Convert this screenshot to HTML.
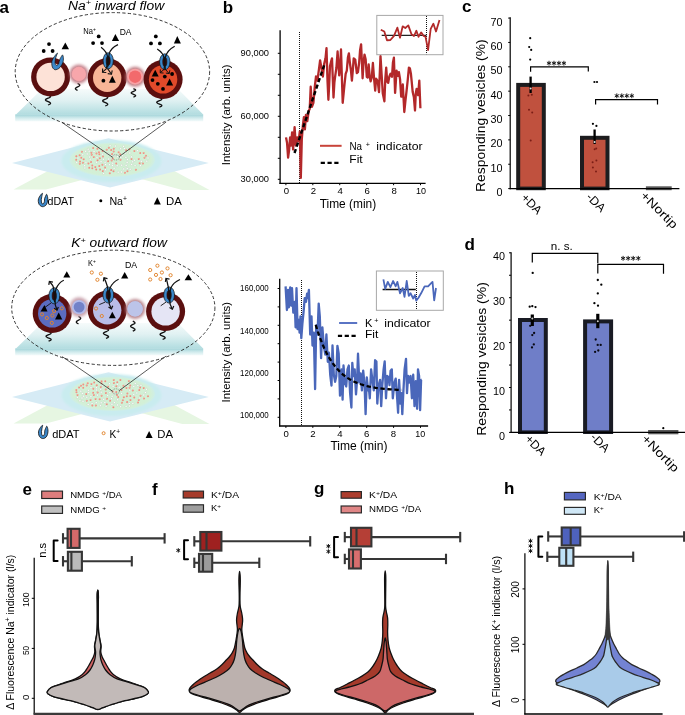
<!DOCTYPE html>
<html><head><meta charset="utf-8"><style>
html,body{margin:0;padding:0;background:#fff;}
svg{display:block;font-family:"Liberation Sans", sans-serif;will-change:transform;}
</style></head><body>
<svg width="685" height="715" viewBox="0 0 685 715">
<rect width="685" height="715" fill="#fff"/>
<defs>
<linearGradient id="gPlane" x1="0" y1="0" x2="0" y2="1">
 <stop offset="0" stop-color="#f6fbfb"/><stop offset="0.45" stop-color="#e0f1f2"/><stop offset="1" stop-color="#b2dde0"/>
</linearGradient>
<linearGradient id="gBand" x1="0" y1="0" x2="0" y2="1">
 <stop offset="0" stop-color="#9fd2d7"/><stop offset="0.5" stop-color="#cfeaec"/><stop offset="1" stop-color="#f4fbfb"/>
</linearGradient>
<radialGradient id="gEll" cx="0.5" cy="0.5" r="0.5">
 <stop offset="0" stop-color="#d0efd3"/><stop offset="0.9" stop-color="#d3f0d6"/><stop offset="1" stop-color="#d6f1d8" stop-opacity="0.3"/>
</radialGradient>
<filter id="blur1" x="-50%" y="-50%" width="200%" height="200%"><feGaussianBlur stdDeviation="1.1"/></filter>
<filter id="blur15" x="-50%" y="-50%" width="200%" height="200%"><feGaussianBlur stdDeviation="1.5"/></filter>
<filter id="blur05" x="-50%" y="-50%" width="200%" height="200%"><feGaussianBlur stdDeviation="0.6"/></filter>
</defs>
<text x="-0.5" y="12.6" font-size="17" font-weight="bold">a</text>
<text x="67.9" y="9.6" font-size="12.3" font-style="italic" textLength="96.3" lengthAdjust="spacingAndGlyphs">Na<tspan font-size="8" dy="-4.2">+</tspan><tspan dy="4.2"> inward flow</tspan></text>
<polygon points="13.5,189.6 60,164.6 95,174 81,180.2 46,189.6" fill="#e6f6e2" stroke="none" stroke-width="1" />
<polygon points="130,176 165,166 209.5,190 182.3,190" fill="#e6f6e2" stroke="none" stroke-width="1" />
<polygon points="12,163.1 108.5,138.3 208.8,163.1 110,187.6" fill="#d6ebf5" stroke="none" stroke-width="1" />
<ellipse cx="111.5" cy="161" rx="50" ry="21" fill="#c9ecef" filter="url(#blur1)"/>
<ellipse cx="112.2" cy="159.8" rx="43" ry="17.2" fill="url(#gEll)"/>
<circle cx="97.41" cy="148.78" r="1" fill="#f08b7e" stroke="none" stroke-width="1" />
<circle cx="97.11" cy="148.38" r="0.35" fill="#fbd2cc" stroke="none" stroke-width="1" />
<circle cx="123.57" cy="146.35" r="1" fill="#ffffff" stroke="#b4c4b4" stroke-width="0.35" />
<circle cx="114.37" cy="155.44" r="1" fill="#ffffff" stroke="#b4c4b4" stroke-width="0.35" />
<circle cx="76.14" cy="159.83" r="1" fill="#f08b7e" stroke="none" stroke-width="1" />
<circle cx="75.84" cy="159.43" r="0.35" fill="#fbd2cc" stroke="none" stroke-width="1" />
<circle cx="105.46" cy="169.73" r="1" fill="#ffffff" stroke="#b4c4b4" stroke-width="0.35" />
<circle cx="117.67" cy="156.4" r="1" fill="#ffffff" stroke="#b4c4b4" stroke-width="0.35" />
<circle cx="140.18" cy="153.08" r="1" fill="#f08b7e" stroke="none" stroke-width="1" />
<circle cx="139.88" cy="152.68" r="0.35" fill="#fbd2cc" stroke="none" stroke-width="1" />
<circle cx="96.18" cy="169.4" r="1" fill="#f08b7e" stroke="none" stroke-width="1" />
<circle cx="95.88" cy="169" r="0.35" fill="#fbd2cc" stroke="none" stroke-width="1" />
<circle cx="85.96" cy="162.13" r="1" fill="#ffffff" stroke="#b4c4b4" stroke-width="0.35" />
<circle cx="122.61" cy="155.64" r="1" fill="#ffffff" stroke="#b4c4b4" stroke-width="0.35" />
<circle cx="115.32" cy="146.05" r="1" fill="#ffffff" stroke="#b4c4b4" stroke-width="0.35" />
<circle cx="125.93" cy="157.36" r="1" fill="#ffffff" stroke="#b4c4b4" stroke-width="0.35" />
<circle cx="96.63" cy="162.25" r="1" fill="#ffffff" stroke="#b4c4b4" stroke-width="0.35" />
<circle cx="107.75" cy="153.39" r="1" fill="#ffffff" stroke="#b4c4b4" stroke-width="0.35" />
<circle cx="135.05" cy="165.77" r="1" fill="#ffffff" stroke="#b4c4b4" stroke-width="0.35" />
<circle cx="91.03" cy="161.91" r="1" fill="#f08b7e" stroke="none" stroke-width="1" />
<circle cx="90.73" cy="161.51" r="0.35" fill="#fbd2cc" stroke="none" stroke-width="1" />
<circle cx="113.52" cy="171.23" r="1" fill="#f08b7e" stroke="none" stroke-width="1" />
<circle cx="113.22" cy="170.83" r="0.35" fill="#fbd2cc" stroke="none" stroke-width="1" />
<circle cx="129.86" cy="153.03" r="1" fill="#ffffff" stroke="#b4c4b4" stroke-width="0.35" />
<circle cx="104.95" cy="167.57" r="1" fill="#f08b7e" stroke="none" stroke-width="1" />
<circle cx="104.65" cy="167.17" r="0.35" fill="#fbd2cc" stroke="none" stroke-width="1" />
<circle cx="83.66" cy="159.26" r="1" fill="#f08b7e" stroke="none" stroke-width="1" />
<circle cx="83.36" cy="158.86" r="0.35" fill="#fbd2cc" stroke="none" stroke-width="1" />
<circle cx="132.67" cy="161.86" r="1" fill="#ffffff" stroke="#b4c4b4" stroke-width="0.35" />
<circle cx="127.12" cy="162.53" r="1" fill="#ffffff" stroke="#b4c4b4" stroke-width="0.35" />
<circle cx="109.43" cy="164.69" r="1" fill="#ffffff" stroke="#b4c4b4" stroke-width="0.35" />
<circle cx="102.36" cy="164.83" r="1" fill="#f08b7e" stroke="none" stroke-width="1" />
<circle cx="102.06" cy="164.43" r="0.35" fill="#fbd2cc" stroke="none" stroke-width="1" />
<circle cx="81.85" cy="151.78" r="1" fill="#f08b7e" stroke="none" stroke-width="1" />
<circle cx="81.55" cy="151.38" r="0.35" fill="#fbd2cc" stroke="none" stroke-width="1" />
<circle cx="102.78" cy="171.11" r="1" fill="#f08b7e" stroke="none" stroke-width="1" />
<circle cx="102.48" cy="170.71" r="0.35" fill="#fbd2cc" stroke="none" stroke-width="1" />
<circle cx="77.95" cy="158.02" r="1" fill="#ffffff" stroke="#b4c4b4" stroke-width="0.35" />
<circle cx="93.77" cy="156.97" r="1" fill="#f08b7e" stroke="none" stroke-width="1" />
<circle cx="93.47" cy="156.57" r="0.35" fill="#fbd2cc" stroke="none" stroke-width="1" />
<circle cx="85.6" cy="151.29" r="1" fill="#ffffff" stroke="#b4c4b4" stroke-width="0.35" />
<circle cx="90.17" cy="159.13" r="1" fill="#ffffff" stroke="#b4c4b4" stroke-width="0.35" />
<circle cx="118.63" cy="152.25" r="1" fill="#f08b7e" stroke="none" stroke-width="1" />
<circle cx="118.33" cy="151.85" r="0.35" fill="#fbd2cc" stroke="none" stroke-width="1" />
<circle cx="101.04" cy="161.66" r="1" fill="#ffffff" stroke="#b4c4b4" stroke-width="0.35" />
<circle cx="112.74" cy="163.25" r="1" fill="#ffffff" stroke="#b4c4b4" stroke-width="0.35" />
<circle cx="102.89" cy="156.47" r="1" fill="#f08b7e" stroke="none" stroke-width="1" />
<circle cx="102.59" cy="156.07" r="0.35" fill="#fbd2cc" stroke="none" stroke-width="1" />
<circle cx="79.78" cy="163.76" r="1" fill="#f08b7e" stroke="none" stroke-width="1" />
<circle cx="79.48" cy="163.36" r="0.35" fill="#fbd2cc" stroke="none" stroke-width="1" />
<circle cx="88.2" cy="149.13" r="1" fill="#ffffff" stroke="#b4c4b4" stroke-width="0.35" />
<circle cx="79.62" cy="155.37" r="1" fill="#f08b7e" stroke="none" stroke-width="1" />
<circle cx="79.32" cy="154.97" r="0.35" fill="#fbd2cc" stroke="none" stroke-width="1" />
<circle cx="120.63" cy="148.71" r="1" fill="#ffffff" stroke="#b4c4b4" stroke-width="0.35" />
<circle cx="91.68" cy="154.87" r="1" fill="#f08b7e" stroke="none" stroke-width="1" />
<circle cx="91.38" cy="154.47" r="0.35" fill="#fbd2cc" stroke="none" stroke-width="1" />
<circle cx="100.63" cy="147.91" r="1" fill="#ffffff" stroke="#b4c4b4" stroke-width="0.35" />
<circle cx="108.78" cy="159.1" r="1" fill="#ffffff" stroke="#b4c4b4" stroke-width="0.35" />
<circle cx="98.91" cy="152.31" r="1" fill="#f08b7e" stroke="none" stroke-width="1" />
<circle cx="98.61" cy="151.91" r="0.35" fill="#fbd2cc" stroke="none" stroke-width="1" />
<circle cx="113.76" cy="148.64" r="1" fill="#f08b7e" stroke="none" stroke-width="1" />
<circle cx="113.46" cy="148.24" r="0.35" fill="#fbd2cc" stroke="none" stroke-width="1" />
<circle cx="140.57" cy="165.68" r="1" fill="#ffffff" stroke="#b4c4b4" stroke-width="0.35" />
<circle cx="84.86" cy="168.03" r="1" fill="#ffffff" stroke="#b4c4b4" stroke-width="0.35" />
<circle cx="114.11" cy="168.25" r="1" fill="#ffffff" stroke="#b4c4b4" stroke-width="0.35" />
<circle cx="92.23" cy="165.57" r="1" fill="#f08b7e" stroke="none" stroke-width="1" />
<circle cx="91.93" cy="165.17" r="0.35" fill="#fbd2cc" stroke="none" stroke-width="1" />
<circle cx="148.02" cy="157.96" r="1" fill="#ffffff" stroke="#b4c4b4" stroke-width="0.35" />
<circle cx="89.14" cy="151.13" r="1" fill="#ffffff" stroke="#b4c4b4" stroke-width="0.35" />
<circle cx="121.43" cy="172.01" r="1" fill="#ffffff" stroke="#b4c4b4" stroke-width="0.35" />
<circle cx="138.73" cy="158.96" r="1" fill="#f08b7e" stroke="none" stroke-width="1" />
<circle cx="138.43" cy="158.56" r="0.35" fill="#fbd2cc" stroke="none" stroke-width="1" />
<circle cx="123.74" cy="168.89" r="1" fill="#ffffff" stroke="#b4c4b4" stroke-width="0.35" />
<circle cx="131.51" cy="158.92" r="1" fill="#f08b7e" stroke="none" stroke-width="1" />
<circle cx="131.21" cy="158.52" r="0.35" fill="#fbd2cc" stroke="none" stroke-width="1" />
<circle cx="103.61" cy="173.45" r="1" fill="#ffffff" stroke="#b4c4b4" stroke-width="0.35" />
<circle cx="129.48" cy="149.37" r="1" fill="#f08b7e" stroke="none" stroke-width="1" />
<circle cx="129.18" cy="148.97" r="0.35" fill="#fbd2cc" stroke="none" stroke-width="1" />
<circle cx="137.59" cy="150.64" r="1" fill="#ffffff" stroke="#b4c4b4" stroke-width="0.35" />
<circle cx="99.8" cy="158.3" r="1" fill="#f08b7e" stroke="none" stroke-width="1" />
<circle cx="99.5" cy="157.9" r="0.35" fill="#fbd2cc" stroke="none" stroke-width="1" />
<circle cx="118.17" cy="172.13" r="1" fill="#ffffff" stroke="#b4c4b4" stroke-width="0.35" />
<circle cx="111.63" cy="160.59" r="1" fill="#f08b7e" stroke="none" stroke-width="1" />
<circle cx="111.33" cy="160.19" r="0.35" fill="#fbd2cc" stroke="none" stroke-width="1" />
<circle cx="106.71" cy="149.78" r="1" fill="#f08b7e" stroke="none" stroke-width="1" />
<circle cx="106.41" cy="149.38" r="0.35" fill="#fbd2cc" stroke="none" stroke-width="1" />
<circle cx="97.58" cy="160.17" r="1" fill="#f08b7e" stroke="none" stroke-width="1" />
<circle cx="97.28" cy="159.77" r="0.35" fill="#fbd2cc" stroke="none" stroke-width="1" />
<circle cx="79.99" cy="161.47" r="1" fill="#f08b7e" stroke="none" stroke-width="1" />
<circle cx="79.69" cy="161.07" r="0.35" fill="#fbd2cc" stroke="none" stroke-width="1" />
<circle cx="91.38" cy="152.68" r="1" fill="#f08b7e" stroke="none" stroke-width="1" />
<circle cx="91.08" cy="152.28" r="0.35" fill="#fbd2cc" stroke="none" stroke-width="1" />
<circle cx="144.5" cy="157.84" r="1" fill="#f08b7e" stroke="none" stroke-width="1" />
<circle cx="144.2" cy="157.44" r="0.35" fill="#fbd2cc" stroke="none" stroke-width="1" />
<circle cx="120.5" cy="159.77" r="1" fill="#f08b7e" stroke="none" stroke-width="1" />
<circle cx="120.2" cy="159.37" r="0.35" fill="#fbd2cc" stroke="none" stroke-width="1" />
<circle cx="112.47" cy="165.57" r="1" fill="#ffffff" stroke="#b4c4b4" stroke-width="0.35" />
<circle cx="109.74" cy="173.29" r="1" fill="#f08b7e" stroke="none" stroke-width="1" />
<circle cx="109.44" cy="172.89" r="0.35" fill="#fbd2cc" stroke="none" stroke-width="1" />
<circle cx="127.44" cy="171.27" r="1" fill="#f08b7e" stroke="none" stroke-width="1" />
<circle cx="127.14" cy="170.87" r="0.35" fill="#fbd2cc" stroke="none" stroke-width="1" />
<circle cx="81.23" cy="157.81" r="1" fill="#f08b7e" stroke="none" stroke-width="1" />
<circle cx="80.93" cy="157.41" r="0.35" fill="#fbd2cc" stroke="none" stroke-width="1" />
<circle cx="124.32" cy="148.53" r="1" fill="#ffffff" stroke="#b4c4b4" stroke-width="0.35" />
<circle cx="103.36" cy="159.21" r="1" fill="#ffffff" stroke="#b4c4b4" stroke-width="0.35" />
<circle cx="87.16" cy="153.97" r="1" fill="#ffffff" stroke="#b4c4b4" stroke-width="0.35" />
<circle cx="93.14" cy="148.12" r="1" fill="#f08b7e" stroke="none" stroke-width="1" />
<circle cx="92.84" cy="147.72" r="0.35" fill="#fbd2cc" stroke="none" stroke-width="1" />
<circle cx="117.15" cy="165.81" r="1" fill="#ffffff" stroke="#b4c4b4" stroke-width="0.35" />
<circle cx="113.65" cy="151.49" r="1" fill="#f08b7e" stroke="none" stroke-width="1" />
<circle cx="113.35" cy="151.09" r="0.35" fill="#fbd2cc" stroke="none" stroke-width="1" />
<circle cx="96.46" cy="153.56" r="1" fill="#f08b7e" stroke="none" stroke-width="1" />
<circle cx="96.16" cy="153.16" r="0.35" fill="#fbd2cc" stroke="none" stroke-width="1" />
<circle cx="111.1" cy="169.97" r="1" fill="#f08b7e" stroke="none" stroke-width="1" />
<circle cx="110.8" cy="169.57" r="0.35" fill="#fbd2cc" stroke="none" stroke-width="1" />
<circle cx="94.05" cy="151.61" r="1" fill="#ffffff" stroke="#b4c4b4" stroke-width="0.35" />
<circle cx="131.54" cy="164.48" r="1" fill="#ffffff" stroke="#b4c4b4" stroke-width="0.35" />
<circle cx="102.66" cy="154.21" r="1" fill="#ffffff" stroke="#b4c4b4" stroke-width="0.35" />
<circle cx="142.86" cy="163.55" r="1" fill="#f08b7e" stroke="none" stroke-width="1" />
<circle cx="142.56" cy="163.15" r="0.35" fill="#fbd2cc" stroke="none" stroke-width="1" />
<circle cx="130.21" cy="169.28" r="1" fill="#ffffff" stroke="#b4c4b4" stroke-width="0.35" />
<circle cx="135.87" cy="169.72" r="1" fill="#f08b7e" stroke="none" stroke-width="1" />
<circle cx="135.57" cy="169.32" r="0.35" fill="#fbd2cc" stroke="none" stroke-width="1" />
<circle cx="126.13" cy="165.59" r="1" fill="#ffffff" stroke="#b4c4b4" stroke-width="0.35" />
<circle cx="116.18" cy="163.56" r="1" fill="#f08b7e" stroke="none" stroke-width="1" />
<circle cx="115.88" cy="163.16" r="0.35" fill="#fbd2cc" stroke="none" stroke-width="1" />
<circle cx="121.6" cy="165.2" r="1" fill="#ffffff" stroke="#b4c4b4" stroke-width="0.35" />
<circle cx="111.02" cy="155.96" r="1" fill="#ffffff" stroke="#b4c4b4" stroke-width="0.35" />
<circle cx="125.56" cy="153.12" r="1" fill="#ffffff" stroke="#b4c4b4" stroke-width="0.35" />
<circle cx="112.82" cy="158.5" r="1" fill="#f08b7e" stroke="none" stroke-width="1" />
<circle cx="112.52" cy="158.1" r="0.35" fill="#fbd2cc" stroke="none" stroke-width="1" />
<circle cx="108.81" cy="147.77" r="1" fill="#f08b7e" stroke="none" stroke-width="1" />
<circle cx="108.51" cy="147.37" r="0.35" fill="#fbd2cc" stroke="none" stroke-width="1" />
<circle cx="82.76" cy="154.76" r="1" fill="#ffffff" stroke="#b4c4b4" stroke-width="0.35" />
<circle cx="143.63" cy="153.08" r="1" fill="#f08b7e" stroke="none" stroke-width="1" />
<circle cx="143.33" cy="152.68" r="0.35" fill="#fbd2cc" stroke="none" stroke-width="1" />
<circle cx="146.76" cy="161.13" r="1" fill="#ffffff" stroke="#b4c4b4" stroke-width="0.35" />
<circle cx="95.32" cy="167.01" r="1" fill="#f08b7e" stroke="none" stroke-width="1" />
<circle cx="95.02" cy="166.61" r="0.35" fill="#fbd2cc" stroke="none" stroke-width="1" />
<circle cx="131.47" cy="156.9" r="1" fill="#ffffff" stroke="#b4c4b4" stroke-width="0.35" />
<circle cx="108.09" cy="161.2" r="1" fill="#f08b7e" stroke="none" stroke-width="1" />
<circle cx="107.79" cy="160.8" r="0.35" fill="#fbd2cc" stroke="none" stroke-width="1" />
<circle cx="102.55" cy="151.03" r="1" fill="#f08b7e" stroke="none" stroke-width="1" />
<circle cx="102.25" cy="150.63" r="0.35" fill="#fbd2cc" stroke="none" stroke-width="1" />
<circle cx="124.89" cy="172.78" r="1" fill="#f08b7e" stroke="none" stroke-width="1" />
<circle cx="124.59" cy="172.38" r="0.35" fill="#fbd2cc" stroke="none" stroke-width="1" />
<circle cx="126.11" cy="150.24" r="1" fill="#f08b7e" stroke="none" stroke-width="1" />
<circle cx="125.81" cy="149.84" r="0.35" fill="#fbd2cc" stroke="none" stroke-width="1" />
<circle cx="89.22" cy="167.67" r="1" fill="#f08b7e" stroke="none" stroke-width="1" />
<circle cx="88.92" cy="167.27" r="0.35" fill="#fbd2cc" stroke="none" stroke-width="1" />
<circle cx="111.16" cy="149.91" r="1" fill="#f08b7e" stroke="none" stroke-width="1" />
<circle cx="110.86" cy="149.51" r="0.35" fill="#fbd2cc" stroke="none" stroke-width="1" />
<circle cx="89.37" cy="157.03" r="1" fill="#ffffff" stroke="#b4c4b4" stroke-width="0.35" />
<circle cx="76.31" cy="156.29" r="1" fill="#f08b7e" stroke="none" stroke-width="1" />
<circle cx="76.01" cy="155.89" r="0.35" fill="#fbd2cc" stroke="none" stroke-width="1" />
<circle cx="100.03" cy="169.57" r="1" fill="#f08b7e" stroke="none" stroke-width="1" />
<circle cx="99.73" cy="169.17" r="0.35" fill="#fbd2cc" stroke="none" stroke-width="1" />
<circle cx="120.08" cy="154.26" r="1" fill="#f08b7e" stroke="none" stroke-width="1" />
<circle cx="119.78" cy="153.86" r="0.35" fill="#fbd2cc" stroke="none" stroke-width="1" />
<circle cx="145.91" cy="155.64" r="1" fill="#f08b7e" stroke="none" stroke-width="1" />
<circle cx="145.61" cy="155.24" r="0.35" fill="#fbd2cc" stroke="none" stroke-width="1" />
<circle cx="92.3" cy="168.21" r="1" fill="#f08b7e" stroke="none" stroke-width="1" />
<circle cx="92" cy="167.81" r="0.35" fill="#fbd2cc" stroke="none" stroke-width="1" />
<circle cx="84.6" cy="165.66" r="1" fill="#ffffff" stroke="#b4c4b4" stroke-width="0.35" />
<circle cx="110.12" cy="145.75" r="1" fill="#ffffff" stroke="#b4c4b4" stroke-width="0.35" />
<circle cx="134.37" cy="150.98" r="1" fill="#f08b7e" stroke="none" stroke-width="1" />
<circle cx="134.07" cy="150.58" r="0.35" fill="#fbd2cc" stroke="none" stroke-width="1" />
<circle cx="105.11" cy="162.16" r="1" fill="#ffffff" stroke="#b4c4b4" stroke-width="0.35" />
<circle cx="105.56" cy="164.52" r="1" fill="#ffffff" stroke="#b4c4b4" stroke-width="0.35" />
<circle cx="111.98" cy="153.99" r="1" fill="#f08b7e" stroke="none" stroke-width="1" />
<circle cx="111.68" cy="153.59" r="0.35" fill="#fbd2cc" stroke="none" stroke-width="1" />
<circle cx="141.34" cy="161.31" r="1" fill="#ffffff" stroke="#b4c4b4" stroke-width="0.35" />
<circle cx="120.78" cy="157.5" r="1" fill="#ffffff" stroke="#b4c4b4" stroke-width="0.35" />
<circle cx="134.58" cy="160.32" r="1" fill="#ffffff" stroke="#b4c4b4" stroke-width="0.35" />
<circle cx="88.46" cy="163.4" r="1" fill="#f08b7e" stroke="none" stroke-width="1" />
<circle cx="88.16" cy="163" r="0.35" fill="#fbd2cc" stroke="none" stroke-width="1" />
<circle cx="76.76" cy="162.4" r="1" fill="#ffffff" stroke="#b4c4b4" stroke-width="0.35" />
<circle cx="97.03" cy="157.24" r="1" fill="#ffffff" stroke="#b4c4b4" stroke-width="0.35" />
<circle cx="139.61" cy="163.27" r="1" fill="#f08b7e" stroke="none" stroke-width="1" />
<circle cx="139.31" cy="162.87" r="0.35" fill="#fbd2cc" stroke="none" stroke-width="1" />
<circle cx="99.24" cy="165.94" r="1" fill="#f08b7e" stroke="none" stroke-width="1" />
<circle cx="98.94" cy="165.54" r="0.35" fill="#fbd2cc" stroke="none" stroke-width="1" />
<circle cx="127.46" cy="159.55" r="1" fill="#ffffff" stroke="#b4c4b4" stroke-width="0.35" />
<circle cx="127.27" cy="168.49" r="1" fill="#ffffff" stroke="#b4c4b4" stroke-width="0.35" />
<circle cx="99.38" cy="154.23" r="1" fill="#f08b7e" stroke="none" stroke-width="1" />
<circle cx="99.08" cy="153.83" r="0.35" fill="#fbd2cc" stroke="none" stroke-width="1" />
<circle cx="82.85" cy="162.81" r="1" fill="#f08b7e" stroke="none" stroke-width="1" />
<circle cx="82.55" cy="162.41" r="0.35" fill="#fbd2cc" stroke="none" stroke-width="1" />
<line x1="62.2" y1="122.6" x2="112.5" y2="157.2" stroke="#222" stroke-width="0.75" />
<line x1="166.2" y1="122" x2="119.2" y2="156.6" stroke="#222" stroke-width="0.75" />
<ellipse cx="115.8" cy="157.4" rx="3.6" ry="2.6" fill="none" stroke="#444" stroke-width="0.5" stroke-dasharray="1 0.8"/>
<polygon points="16,114.4 42,89 178,89 203.2,114.4" fill="url(#gPlane)" stroke="none" stroke-width="1" />
<rect x="15.2" y="114.4" width="188" height="7" fill="url(#gBand)" stroke="none" stroke-width="1" />
<ellipse cx="112.4" cy="71.8" rx="97.2" ry="59.2" fill="none" stroke="#1e1e1e" stroke-width="0.9" stroke-dasharray="3.2 2.2"/>
<polyline points="48,94.8 48.59,95.05 49.14,95.31 49.64,95.56 50.04,95.82 50.33,96.08 50.49,96.33 50.51,96.58 50.4,96.84 50.15,97.09 49.78,97.35 49.32,97.6 48.78,97.86 48.2,98.11 47.61,98.37 47.04,98.62 46.52,98.88 46.08,99.13 45.75,99.39 45.55,99.64 45.48,99.9 45.55,100.16 45.75,100.41 46.08,100.66 46.52,100.92 47.04,101.17 47.61,101.43 48.2,101.69 48.78,101.94 49.32,102.19 49.78,102.45 50.15,102.7 50.4,102.96 50.51,103.22 50.49,103.47 50.33,103.72 50.04,103.98 49.64,104.23 49.14,104.49 48.59,104.74 48,105" fill="none" stroke="#111" stroke-width="1.35" stroke-linejoin="round"/>
<polyline points="77.6,83.4 77.94,83.58 78.27,83.75 78.58,83.93 78.87,84.1 79.13,84.28 79.35,84.45 79.52,84.62 79.65,84.8 79.73,84.98 79.76,85.15 79.73,85.33 79.65,85.5 79.52,85.68 79.35,85.85 79.13,86.03 78.87,86.2 78.58,86.38 78.27,86.55 77.94,86.73 77.6,86.9 77.26,87.08 76.93,87.25 76.62,87.43 76.33,87.6 76.07,87.78 75.85,87.95 75.68,88.12 75.55,88.3 75.47,88.48 75.44,88.65 75.47,88.83 75.55,89 75.68,89.18 75.85,89.35 76.07,89.53 76.33,89.7 76.62,89.88 76.93,90.05 77.26,90.23 77.6,90.4" fill="none" stroke="#111" stroke-width="1.35" stroke-linejoin="round"/>
<polyline points="105.2,95.8 105.79,96.05 106.34,96.31 106.84,96.56 107.24,96.82 107.53,97.08 107.69,97.33 107.71,97.58 107.6,97.84 107.35,98.09 106.98,98.35 106.52,98.6 105.98,98.86 105.4,99.11 104.81,99.37 104.24,99.62 103.72,99.88 103.28,100.13 102.95,100.39 102.75,100.64 102.68,100.9 102.75,101.16 102.95,101.41 103.28,101.66 103.72,101.92 104.24,102.17 104.81,102.43 105.4,102.69 105.98,102.94 106.52,103.19 106.98,103.45 107.35,103.7 107.6,103.96 107.71,104.22 107.69,104.47 107.53,104.72 107.24,104.98 106.84,105.23 106.34,105.49 105.79,105.74 105.2,106" fill="none" stroke="#111" stroke-width="1.35" stroke-linejoin="round"/>
<polyline points="133.4,88.6 133.9,88.81 134.38,89.02 134.8,89.24 135.15,89.45 135.4,89.66 135.53,89.88 135.55,90.09 135.45,90.3 135.24,90.51 134.93,90.72 134.53,90.94 134.07,91.15 133.57,91.36 133.06,91.57 132.57,91.79 132.13,92 131.76,92.21 131.48,92.42 131.3,92.64 131.24,92.85 131.3,93.06 131.48,93.27 131.76,93.49 132.13,93.7 132.57,93.91 133.06,94.12 133.57,94.34 134.07,94.55 134.53,94.76 134.93,94.97 135.24,95.19 135.45,95.4 135.55,95.61 135.53,95.82 135.4,96.04 135.15,96.25 134.8,96.46 134.38,96.67 133.9,96.89 133.4,97.1" fill="none" stroke="#111" stroke-width="1.35" stroke-linejoin="round"/>
<polyline points="159.3,97.4 159.89,97.65 160.44,97.89 160.94,98.14 161.34,98.38 161.63,98.62 161.79,98.87 161.81,99.12 161.7,99.36 161.45,99.61 161.08,99.85 160.62,100.09 160.08,100.34 159.5,100.59 158.91,100.83 158.34,101.08 157.82,101.32 157.38,101.57 157.05,101.81 156.85,102.06 156.78,102.3 156.85,102.55 157.05,102.79 157.38,103.04 157.82,103.28 158.34,103.53 158.91,103.77 159.5,104.02 160.08,104.26 160.62,104.51 161.08,104.75 161.45,105 161.7,105.24 161.81,105.49 161.79,105.73 161.63,105.98 161.34,106.22 160.94,106.47 160.44,106.71 159.89,106.96 159.3,107.2" fill="none" stroke="#111" stroke-width="1.35" stroke-linejoin="round"/>
<circle cx="50.6" cy="76.9" r="19.5" fill="#5b0f0f" stroke="none" stroke-width="1" />
<circle cx="50.6" cy="76.9" r="14.2" fill="#fde2d7" stroke="none" stroke-width="1" />
<circle cx="78.9" cy="74" r="9.6" fill="#bf7680" stroke="none" stroke-width="1" filter="url(#blur15)" opacity="0.9"/>
<circle cx="78.9" cy="74" r="7.2" fill="#f2a2a8" stroke="none" stroke-width="1" filter="url(#blur05)"/>
<circle cx="78.9" cy="74" r="6.8" fill="#f7a6ab" stroke="none" stroke-width="1" filter="url(#blur05)"/>
<circle cx="107.2" cy="77.8" r="19.5" fill="#5b0f0f" stroke="none" stroke-width="1" />
<circle cx="107.2" cy="77.8" r="14.2" fill="#f8b597" stroke="none" stroke-width="1" />
<circle cx="135.1" cy="76.7" r="10" fill="#b96e76" stroke="none" stroke-width="1" filter="url(#blur15)" opacity="0.9"/>
<circle cx="135.1" cy="76.7" r="8" fill="#f7a0a3" stroke="none" stroke-width="1" filter="url(#blur05)"/>
<circle cx="135.1" cy="76.7" r="6.2" fill="#f26a6c" stroke="none" stroke-width="1" filter="url(#blur05)"/>
<circle cx="163.1" cy="79.4" r="19.5" fill="#5b0f0f" stroke="none" stroke-width="1" />
<circle cx="163.1" cy="79.4" r="14.2" fill="#e14a2a" stroke="none" stroke-width="1" />
<path d="M57.41,53.11 C57.11,53.17 55.34,55.23 54.49,56.39 C53.64,57.55 52.76,58.88 52.3,60.04 C51.84,61.2 51.75,62.17 51.75,63.33 C51.75,64.49 51.91,65.98 52.3,66.98 C52.69,67.98 53.51,68.89 54.12,69.35 C54.73,69.81 55.16,69.87 55.95,69.72 C56.74,69.57 58.02,69.08 58.87,68.44 C59.72,67.8 60.39,66.85 61.06,65.88 C61.73,64.91 62.48,63.76 62.88,62.6 C63.28,61.45 63.4,60.05 63.43,58.95 C63.46,57.86 63.22,56.7 63.07,56.03 C62.92,55.36 62.8,54.87 62.52,54.93 C62.25,54.99 61.85,55.72 61.42,56.39 C60.99,57.06 60.36,58.04 59.96,58.95 C59.56,59.86 59.29,61.02 59.05,61.87 C58.81,62.72 58.89,63.48 58.5,64.06 C58.11,64.64 57.2,65.28 56.68,65.34 C56.16,65.4 55.67,65 55.4,64.42 C55.13,63.84 55.04,62.78 55.04,61.87 C55.04,60.96 55.19,59.92 55.4,58.95 C55.61,57.98 55.98,57 56.31,56.03 C56.65,55.06 57.71,53.05 57.41,53.11Z" fill="#3b87c9" stroke="#111" stroke-width="0.7" stroke-linejoin="round"/>
<circle cx="49" cy="44.1" r="1.9" fill="#000" stroke="none" stroke-width="1" />
<circle cx="43.7" cy="51" r="1.9" fill="#000" stroke="none" stroke-width="1" />
<circle cx="52.6" cy="51" r="1.9" fill="#000" stroke="none" stroke-width="1" />
<polygon points="65.3,42.6 61.6,49.3 69,49.3" fill="#000" stroke="none" stroke-width="1" />
<text x="83.2" y="34" font-size="9.2" textLength="12.6" lengthAdjust="spacingAndGlyphs">Na<tspan font-size="6" dy="-3.2">+</tspan></text>
<circle cx="98.7" cy="36.4" r="1.9" fill="#000" stroke="none" stroke-width="1" />
<circle cx="93.1" cy="43.1" r="1.9" fill="#000" stroke="none" stroke-width="1" />
<circle cx="102" cy="43.1" r="1.9" fill="#000" stroke="none" stroke-width="1" />
<polygon points="115.4,33.9 111.9,41.1 119.1,41.1" fill="#000" stroke="none" stroke-width="1" />
<text x="119.7" y="35" font-size="8.8" textLength="11.8" lengthAdjust="spacingAndGlyphs">DA</text>
<ellipse cx="108.2" cy="60.8" rx="5.1" ry="8.1" fill="#3b87c9" stroke="#111" stroke-width="0.7"/>
<ellipse cx="108.2" cy="60.8" rx="2.04" ry="4.62" fill="#3a0808" stroke="#111" stroke-width="0.6"/>
<path d="M101.1,47.3 C104.5,50 107.2,53 107.6,57 C108,61 107.2,64 106.4,68.5" fill="none" stroke="#111" stroke-width="1.25" />
<path d="M118,44.6 C114,46.5 110,50 109.2,54 C108.5,58 108.4,63 107.6,67.5" fill="none" stroke="#111" stroke-width="1.25" />
<path d="M106.5,68.6 L102.5,72.2" fill="none" stroke="#111" stroke-width="1.1" />
<polyline points="102.64,68.4 102.5,72.2 106.29,72.45" fill="none" stroke="#111" stroke-width="1.1" stroke-linejoin="miter"/>
<path d="M107.6,68.6 L111.5,74.2" fill="none" stroke="#111" stroke-width="1.1" />
<polyline points="107.75,73.59 111.5,74.2 112.21,70.47" fill="none" stroke="#111" stroke-width="1.1" stroke-linejoin="miter"/>
<circle cx="103.4" cy="80.7" r="1.9" fill="#000" stroke="none" stroke-width="1" />
<polygon points="112.3,75.8 108.9,82.7 115.8,82.7" fill="#000" stroke="none" stroke-width="1" />
<circle cx="155.8" cy="36.4" r="1.9" fill="#000" stroke="none" stroke-width="1" />
<circle cx="151" cy="43.4" r="1.9" fill="#000" stroke="none" stroke-width="1" />
<circle cx="159.9" cy="43.4" r="1.9" fill="#000" stroke="none" stroke-width="1" />
<polygon points="177.3,36 173.9,43.4 180.9,43.4" fill="#000" stroke="none" stroke-width="1" />
<ellipse cx="164.8" cy="61.8" rx="5.2" ry="8" fill="#3b87c9" stroke="#111" stroke-width="0.7"/>
<ellipse cx="164.8" cy="61.8" rx="2.08" ry="4.56" fill="#3a0808" stroke="#111" stroke-width="0.6"/>
<path d="M157.2,49 C160.5,51 163.5,54.5 164.3,58.8 C164.8,62 164.5,66 164,70" fill="none" stroke="#111" stroke-width="1.25" />
<path d="M174.7,46.3 C170.5,48.5 166.5,52.5 165.2,57.5 C164.6,61 165,66 165.4,70" fill="none" stroke="#111" stroke-width="1.25" />
<path d="M164,69.4 L160.2,72.8" fill="none" stroke="#111" stroke-width="1" />
<polyline points="160.33,69.4 160.2,72.8 163.59,73.03" fill="none" stroke="#111" stroke-width="1" stroke-linejoin="miter"/>
<path d="M165.4,69.4 L169.2,73.6" fill="none" stroke="#111" stroke-width="1" />
<polyline points="165.84,73.06 169.2,73.6 169.84,70.26" fill="none" stroke="#111" stroke-width="1" stroke-linejoin="miter"/>
<polygon points="155.2,69.8 151.7,76.6 158.7,76.6" fill="#000" stroke="none" stroke-width="1" />
<polygon points="169.6,78.6 166.1,85.4 173.1,85.4" fill="#000" stroke="none" stroke-width="1" />
<circle cx="152.5" cy="80.1" r="1.9" fill="#000" stroke="none" stroke-width="1" />
<circle cx="157.8" cy="83.8" r="1.9" fill="#000" stroke="none" stroke-width="1" />
<circle cx="163" cy="88.9" r="1.9" fill="#000" stroke="none" stroke-width="1" />
<circle cx="164.8" cy="76.6" r="1.9" fill="#000" stroke="none" stroke-width="1" />
<circle cx="172.1" cy="74" r="1.9" fill="#000" stroke="none" stroke-width="1" />
<path d="M42.4,193.3 C42.15,193.13 40.93,194.63 40.3,195.5 C39.67,196.37 38.93,197.5 38.6,198.5 C38.27,199.5 38.2,200.5 38.3,201.5 C38.4,202.5 38.72,203.7 39.2,204.5 C39.68,205.3 40.48,205.95 41.2,206.3 C41.92,206.65 42.73,206.77 43.5,206.6 C44.27,206.43 45.18,205.93 45.8,205.3 C46.42,204.67 46.87,203.77 47.2,202.8 C47.53,201.83 47.75,200.55 47.8,199.5 C47.85,198.45 47.7,197.37 47.5,196.5 C47.3,195.63 46.93,194.33 46.6,194.3 C46.27,194.27 45.83,195.58 45.5,196.3 C45.17,197.02 44.78,197.73 44.6,198.6 C44.42,199.47 44.58,200.67 44.4,201.5 C44.22,202.33 43.87,203.22 43.5,203.6 C43.13,203.98 42.55,204.07 42.2,203.8 C41.85,203.53 41.55,202.72 41.4,202 C41.25,201.28 41.23,200.42 41.3,199.5 C41.37,198.58 41.62,197.53 41.8,196.5 C41.98,195.47 42.65,193.47 42.4,193.3Z" fill="#3b87c9" stroke="#111" stroke-width="0.8" stroke-linejoin="round"/>
<text x="47.5" y="204.8" font-size="11" textLength="26.4" lengthAdjust="spacingAndGlyphs">dDAT</text>
<circle cx="100.8" cy="200.8" r="1.5" fill="#000" stroke="none" stroke-width="1" />
<text x="109.4" y="204.8" font-size="11" textLength="17.6" lengthAdjust="spacingAndGlyphs">Na<tspan font-size="7" dy="-3.8">+</tspan></text>
<polygon points="157.3,197.2 153.8,204.4 160.8,204.4" fill="#000" stroke="none" stroke-width="1" />
<text x="166" y="204.8" font-size="11" textLength="15.8" lengthAdjust="spacingAndGlyphs">DA</text>
<text x="71.2" y="247" font-size="12.3" font-style="italic" textLength="95.7" lengthAdjust="spacingAndGlyphs">K<tspan font-size="8" dy="-4.2">+</tspan><tspan dy="4.2"> outward flow</tspan></text>
<polygon points="13.5,423.6 60,398.6 95,408 81,414.2 46,423.6" fill="#e6f6e2" stroke="none" stroke-width="1" />
<polygon points="130,410 165,400 209.5,424 182.3,424" fill="#e6f6e2" stroke="none" stroke-width="1" />
<polygon points="12,397.1 108.5,372.3 208.8,397.1 110,421.6" fill="#d6ebf5" stroke="none" stroke-width="1" />
<ellipse cx="111.5" cy="395" rx="50" ry="21" fill="#c9ecef" filter="url(#blur1)"/>
<ellipse cx="112.2" cy="393.8" rx="43" ry="17.2" fill="url(#gEll)"/>
<circle cx="107.69" cy="395.45" r="1" fill="#ffffff" stroke="#b4c4b4" stroke-width="0.35" />
<circle cx="145.44" cy="392.54" r="1" fill="#ffffff" stroke="#b4c4b4" stroke-width="0.35" />
<circle cx="112.13" cy="396.31" r="1" fill="#ffffff" stroke="#b4c4b4" stroke-width="0.35" />
<circle cx="86.27" cy="393.97" r="1" fill="#f08b7e" stroke="none" stroke-width="1" />
<circle cx="85.97" cy="393.57" r="0.35" fill="#fbd2cc" stroke="none" stroke-width="1" />
<circle cx="121.89" cy="402.68" r="1" fill="#f08b7e" stroke="none" stroke-width="1" />
<circle cx="121.59" cy="402.28" r="0.35" fill="#fbd2cc" stroke="none" stroke-width="1" />
<circle cx="79.03" cy="387.51" r="1" fill="#f08b7e" stroke="none" stroke-width="1" />
<circle cx="78.73" cy="387.11" r="0.35" fill="#fbd2cc" stroke="none" stroke-width="1" />
<circle cx="123.81" cy="397.18" r="1" fill="#f08b7e" stroke="none" stroke-width="1" />
<circle cx="123.51" cy="396.78" r="0.35" fill="#fbd2cc" stroke="none" stroke-width="1" />
<circle cx="113.77" cy="379.95" r="1" fill="#f08b7e" stroke="none" stroke-width="1" />
<circle cx="113.47" cy="379.55" r="0.35" fill="#fbd2cc" stroke="none" stroke-width="1" />
<circle cx="86.72" cy="385.6" r="1" fill="#f08b7e" stroke="none" stroke-width="1" />
<circle cx="86.42" cy="385.2" r="0.35" fill="#fbd2cc" stroke="none" stroke-width="1" />
<circle cx="106.74" cy="404.22" r="1" fill="#f08b7e" stroke="none" stroke-width="1" />
<circle cx="106.44" cy="403.82" r="0.35" fill="#fbd2cc" stroke="none" stroke-width="1" />
<circle cx="111.48" cy="398.64" r="1" fill="#ffffff" stroke="#b4c4b4" stroke-width="0.35" />
<circle cx="108.09" cy="386.72" r="1" fill="#f08b7e" stroke="none" stroke-width="1" />
<circle cx="107.79" cy="386.32" r="0.35" fill="#fbd2cc" stroke="none" stroke-width="1" />
<circle cx="138.72" cy="400.04" r="1" fill="#f08b7e" stroke="none" stroke-width="1" />
<circle cx="138.42" cy="399.64" r="0.35" fill="#fbd2cc" stroke="none" stroke-width="1" />
<circle cx="96.72" cy="385.22" r="1" fill="#f08b7e" stroke="none" stroke-width="1" />
<circle cx="96.42" cy="384.82" r="0.35" fill="#fbd2cc" stroke="none" stroke-width="1" />
<circle cx="132.8" cy="390.51" r="1" fill="#f08b7e" stroke="none" stroke-width="1" />
<circle cx="132.5" cy="390.11" r="0.35" fill="#fbd2cc" stroke="none" stroke-width="1" />
<circle cx="139.23" cy="390.08" r="1" fill="#f08b7e" stroke="none" stroke-width="1" />
<circle cx="138.93" cy="389.68" r="0.35" fill="#fbd2cc" stroke="none" stroke-width="1" />
<circle cx="77.34" cy="397.61" r="1" fill="#ffffff" stroke="#b4c4b4" stroke-width="0.35" />
<circle cx="133.78" cy="386.46" r="1" fill="#ffffff" stroke="#b4c4b4" stroke-width="0.35" />
<circle cx="80.94" cy="385.74" r="1" fill="#f08b7e" stroke="none" stroke-width="1" />
<circle cx="80.64" cy="385.34" r="0.35" fill="#fbd2cc" stroke="none" stroke-width="1" />
<circle cx="135.26" cy="383.61" r="1" fill="#ffffff" stroke="#b4c4b4" stroke-width="0.35" />
<circle cx="116.24" cy="391.97" r="1" fill="#f08b7e" stroke="none" stroke-width="1" />
<circle cx="115.94" cy="391.57" r="0.35" fill="#fbd2cc" stroke="none" stroke-width="1" />
<circle cx="86.75" cy="400.79" r="1" fill="#f08b7e" stroke="none" stroke-width="1" />
<circle cx="86.45" cy="400.39" r="0.35" fill="#fbd2cc" stroke="none" stroke-width="1" />
<circle cx="81.98" cy="398.06" r="1" fill="#ffffff" stroke="#b4c4b4" stroke-width="0.35" />
<circle cx="80.82" cy="391.14" r="1" fill="#ffffff" stroke="#b4c4b4" stroke-width="0.35" />
<circle cx="95.83" cy="405.53" r="1" fill="#f08b7e" stroke="none" stroke-width="1" />
<circle cx="95.53" cy="405.13" r="0.35" fill="#fbd2cc" stroke="none" stroke-width="1" />
<circle cx="88.36" cy="390.32" r="1" fill="#ffffff" stroke="#b4c4b4" stroke-width="0.35" />
<circle cx="139.85" cy="398" r="1" fill="#ffffff" stroke="#b4c4b4" stroke-width="0.35" />
<circle cx="90.94" cy="396.74" r="1" fill="#ffffff" stroke="#b4c4b4" stroke-width="0.35" />
<circle cx="101.24" cy="392.15" r="1" fill="#ffffff" stroke="#b4c4b4" stroke-width="0.35" />
<circle cx="117.47" cy="404.96" r="1" fill="#ffffff" stroke="#b4c4b4" stroke-width="0.35" />
<circle cx="91.46" cy="383.98" r="1" fill="#f08b7e" stroke="none" stroke-width="1" />
<circle cx="91.16" cy="383.58" r="0.35" fill="#fbd2cc" stroke="none" stroke-width="1" />
<circle cx="105.22" cy="381.32" r="1" fill="#f08b7e" stroke="none" stroke-width="1" />
<circle cx="104.92" cy="380.92" r="0.35" fill="#fbd2cc" stroke="none" stroke-width="1" />
<circle cx="90.57" cy="399.94" r="1" fill="#f08b7e" stroke="none" stroke-width="1" />
<circle cx="90.27" cy="399.54" r="0.35" fill="#fbd2cc" stroke="none" stroke-width="1" />
<circle cx="92.06" cy="403.64" r="1" fill="#ffffff" stroke="#b4c4b4" stroke-width="0.35" />
<circle cx="119.22" cy="387.2" r="1" fill="#ffffff" stroke="#b4c4b4" stroke-width="0.35" />
<circle cx="117.27" cy="382.18" r="1" fill="#f08b7e" stroke="none" stroke-width="1" />
<circle cx="116.97" cy="381.78" r="0.35" fill="#fbd2cc" stroke="none" stroke-width="1" />
<circle cx="100.47" cy="405.72" r="1" fill="#ffffff" stroke="#b4c4b4" stroke-width="0.35" />
<circle cx="126.8" cy="396.22" r="1" fill="#f08b7e" stroke="none" stroke-width="1" />
<circle cx="126.5" cy="395.82" r="0.35" fill="#fbd2cc" stroke="none" stroke-width="1" />
<circle cx="110.08" cy="400.75" r="1" fill="#f08b7e" stroke="none" stroke-width="1" />
<circle cx="109.78" cy="400.35" r="0.35" fill="#fbd2cc" stroke="none" stroke-width="1" />
<circle cx="77.52" cy="395.03" r="1" fill="#f08b7e" stroke="none" stroke-width="1" />
<circle cx="77.22" cy="394.63" r="0.35" fill="#fbd2cc" stroke="none" stroke-width="1" />
<circle cx="130.47" cy="399.91" r="1" fill="#f08b7e" stroke="none" stroke-width="1" />
<circle cx="130.17" cy="399.51" r="0.35" fill="#fbd2cc" stroke="none" stroke-width="1" />
<circle cx="99.65" cy="399.34" r="1" fill="#f08b7e" stroke="none" stroke-width="1" />
<circle cx="99.35" cy="398.94" r="0.35" fill="#fbd2cc" stroke="none" stroke-width="1" />
<circle cx="104.87" cy="402.61" r="1" fill="#ffffff" stroke="#b4c4b4" stroke-width="0.35" />
<circle cx="140.58" cy="395.86" r="1" fill="#f08b7e" stroke="none" stroke-width="1" />
<circle cx="140.28" cy="395.46" r="0.35" fill="#fbd2cc" stroke="none" stroke-width="1" />
<circle cx="121.5" cy="389.95" r="1" fill="#f08b7e" stroke="none" stroke-width="1" />
<circle cx="121.2" cy="389.55" r="0.35" fill="#fbd2cc" stroke="none" stroke-width="1" />
<circle cx="118.11" cy="396.97" r="1" fill="#f08b7e" stroke="none" stroke-width="1" />
<circle cx="117.81" cy="396.57" r="0.35" fill="#fbd2cc" stroke="none" stroke-width="1" />
<circle cx="129.76" cy="390.14" r="1" fill="#ffffff" stroke="#b4c4b4" stroke-width="0.35" />
<circle cx="130.3" cy="396.11" r="1" fill="#f08b7e" stroke="none" stroke-width="1" />
<circle cx="130" cy="395.71" r="0.35" fill="#fbd2cc" stroke="none" stroke-width="1" />
<circle cx="127.37" cy="393.51" r="1" fill="#f08b7e" stroke="none" stroke-width="1" />
<circle cx="127.07" cy="393.11" r="0.35" fill="#fbd2cc" stroke="none" stroke-width="1" />
<circle cx="120.66" cy="406.63" r="1" fill="#ffffff" stroke="#b4c4b4" stroke-width="0.35" />
<circle cx="95.58" cy="399.12" r="1" fill="#f08b7e" stroke="none" stroke-width="1" />
<circle cx="95.28" cy="398.72" r="0.35" fill="#fbd2cc" stroke="none" stroke-width="1" />
<circle cx="87.71" cy="383.36" r="1" fill="#f08b7e" stroke="none" stroke-width="1" />
<circle cx="87.41" cy="382.96" r="0.35" fill="#fbd2cc" stroke="none" stroke-width="1" />
<circle cx="143.96" cy="398.56" r="1" fill="#f08b7e" stroke="none" stroke-width="1" />
<circle cx="143.66" cy="398.16" r="0.35" fill="#fbd2cc" stroke="none" stroke-width="1" />
<circle cx="82.39" cy="393.49" r="1" fill="#ffffff" stroke="#b4c4b4" stroke-width="0.35" />
<circle cx="121.56" cy="393.41" r="1" fill="#ffffff" stroke="#b4c4b4" stroke-width="0.35" />
<circle cx="96.22" cy="402.64" r="1" fill="#ffffff" stroke="#b4c4b4" stroke-width="0.35" />
<circle cx="137.87" cy="385.46" r="1" fill="#ffffff" stroke="#b4c4b4" stroke-width="0.35" />
<circle cx="126.26" cy="384.28" r="1" fill="#ffffff" stroke="#b4c4b4" stroke-width="0.35" />
<circle cx="109.51" cy="383.64" r="1" fill="#ffffff" stroke="#b4c4b4" stroke-width="0.35" />
<circle cx="93.29" cy="388.82" r="1" fill="#f08b7e" stroke="none" stroke-width="1" />
<circle cx="92.99" cy="388.42" r="0.35" fill="#fbd2cc" stroke="none" stroke-width="1" />
<circle cx="101.64" cy="395.73" r="1" fill="#f08b7e" stroke="none" stroke-width="1" />
<circle cx="101.34" cy="395.33" r="0.35" fill="#fbd2cc" stroke="none" stroke-width="1" />
<circle cx="129.25" cy="403.47" r="1" fill="#ffffff" stroke="#b4c4b4" stroke-width="0.35" />
<circle cx="122.83" cy="400.35" r="1" fill="#f08b7e" stroke="none" stroke-width="1" />
<circle cx="122.53" cy="399.95" r="0.35" fill="#fbd2cc" stroke="none" stroke-width="1" />
<circle cx="114.46" cy="402.61" r="1" fill="#ffffff" stroke="#b4c4b4" stroke-width="0.35" />
<circle cx="96.44" cy="389.92" r="1" fill="#ffffff" stroke="#b4c4b4" stroke-width="0.35" />
<circle cx="88.16" cy="404.47" r="1" fill="#ffffff" stroke="#b4c4b4" stroke-width="0.35" />
<circle cx="117.34" cy="384.33" r="1" fill="#ffffff" stroke="#b4c4b4" stroke-width="0.35" />
<circle cx="114.37" cy="393.7" r="1" fill="#ffffff" stroke="#b4c4b4" stroke-width="0.35" />
<circle cx="93.04" cy="392.77" r="1" fill="#f08b7e" stroke="none" stroke-width="1" />
<circle cx="92.74" cy="392.37" r="0.35" fill="#fbd2cc" stroke="none" stroke-width="1" />
<circle cx="86.82" cy="397.25" r="1" fill="#ffffff" stroke="#b4c4b4" stroke-width="0.35" />
<circle cx="126.46" cy="388.08" r="1" fill="#f08b7e" stroke="none" stroke-width="1" />
<circle cx="126.16" cy="387.68" r="0.35" fill="#fbd2cc" stroke="none" stroke-width="1" />
<circle cx="79.89" cy="400.76" r="1" fill="#ffffff" stroke="#b4c4b4" stroke-width="0.35" />
<circle cx="113.85" cy="383.05" r="1" fill="#f08b7e" stroke="none" stroke-width="1" />
<circle cx="113.55" cy="382.65" r="0.35" fill="#fbd2cc" stroke="none" stroke-width="1" />
<circle cx="143.71" cy="387.89" r="1" fill="#f08b7e" stroke="none" stroke-width="1" />
<circle cx="143.41" cy="387.49" r="0.35" fill="#fbd2cc" stroke="none" stroke-width="1" />
<circle cx="103.72" cy="399.34" r="1" fill="#ffffff" stroke="#b4c4b4" stroke-width="0.35" />
<circle cx="126.09" cy="406.35" r="1" fill="#ffffff" stroke="#b4c4b4" stroke-width="0.35" />
<circle cx="97.65" cy="392.58" r="1" fill="#f08b7e" stroke="none" stroke-width="1" />
<circle cx="97.35" cy="392.18" r="0.35" fill="#fbd2cc" stroke="none" stroke-width="1" />
<circle cx="112.72" cy="391.43" r="1" fill="#f08b7e" stroke="none" stroke-width="1" />
<circle cx="112.42" cy="391.03" r="0.35" fill="#fbd2cc" stroke="none" stroke-width="1" />
<circle cx="127.08" cy="401.89" r="1" fill="#f08b7e" stroke="none" stroke-width="1" />
<circle cx="126.78" cy="401.49" r="0.35" fill="#fbd2cc" stroke="none" stroke-width="1" />
<circle cx="101.55" cy="381.15" r="1" fill="#f08b7e" stroke="none" stroke-width="1" />
<circle cx="101.25" cy="380.75" r="0.35" fill="#fbd2cc" stroke="none" stroke-width="1" />
<circle cx="120.39" cy="379.91" r="1" fill="#f08b7e" stroke="none" stroke-width="1" />
<circle cx="120.09" cy="379.51" r="0.35" fill="#fbd2cc" stroke="none" stroke-width="1" />
<circle cx="100.75" cy="386.96" r="1" fill="#f08b7e" stroke="none" stroke-width="1" />
<circle cx="100.45" cy="386.56" r="0.35" fill="#fbd2cc" stroke="none" stroke-width="1" />
<circle cx="105.86" cy="392.91" r="1" fill="#f08b7e" stroke="none" stroke-width="1" />
<circle cx="105.56" cy="392.51" r="0.35" fill="#fbd2cc" stroke="none" stroke-width="1" />
<circle cx="113.37" cy="407.16" r="1" fill="#f08b7e" stroke="none" stroke-width="1" />
<circle cx="113.07" cy="406.76" r="0.35" fill="#fbd2cc" stroke="none" stroke-width="1" />
<circle cx="106.93" cy="398.8" r="1" fill="#f08b7e" stroke="none" stroke-width="1" />
<circle cx="106.63" cy="398.4" r="0.35" fill="#fbd2cc" stroke="none" stroke-width="1" />
<circle cx="133.74" cy="394.55" r="1" fill="#ffffff" stroke="#b4c4b4" stroke-width="0.35" />
<circle cx="130.24" cy="385.49" r="1" fill="#f08b7e" stroke="none" stroke-width="1" />
<circle cx="129.94" cy="385.09" r="0.35" fill="#fbd2cc" stroke="none" stroke-width="1" />
<circle cx="134.24" cy="397.47" r="1" fill="#f08b7e" stroke="none" stroke-width="1" />
<circle cx="133.94" cy="397.07" r="0.35" fill="#fbd2cc" stroke="none" stroke-width="1" />
<circle cx="97.53" cy="395.11" r="1" fill="#ffffff" stroke="#b4c4b4" stroke-width="0.35" />
<circle cx="105.71" cy="389.55" r="1" fill="#f08b7e" stroke="none" stroke-width="1" />
<circle cx="105.41" cy="389.15" r="0.35" fill="#fbd2cc" stroke="none" stroke-width="1" />
<circle cx="94.13" cy="382.53" r="1" fill="#f08b7e" stroke="none" stroke-width="1" />
<circle cx="93.83" cy="382.13" r="0.35" fill="#fbd2cc" stroke="none" stroke-width="1" />
<circle cx="100.75" cy="389.36" r="1" fill="#ffffff" stroke="#b4c4b4" stroke-width="0.35" />
<circle cx="83.01" cy="401.22" r="1" fill="#ffffff" stroke="#b4c4b4" stroke-width="0.35" />
<circle cx="123.42" cy="385.71" r="1" fill="#f08b7e" stroke="none" stroke-width="1" />
<circle cx="123.12" cy="385.31" r="0.35" fill="#fbd2cc" stroke="none" stroke-width="1" />
<circle cx="101.54" cy="383.3" r="1" fill="#f08b7e" stroke="none" stroke-width="1" />
<circle cx="101.24" cy="382.9" r="0.35" fill="#fbd2cc" stroke="none" stroke-width="1" />
<circle cx="76.49" cy="392.32" r="1" fill="#f08b7e" stroke="none" stroke-width="1" />
<circle cx="76.19" cy="391.92" r="0.35" fill="#fbd2cc" stroke="none" stroke-width="1" />
<circle cx="136.87" cy="392.96" r="1" fill="#ffffff" stroke="#b4c4b4" stroke-width="0.35" />
<circle cx="92.34" cy="405.61" r="1" fill="#f08b7e" stroke="none" stroke-width="1" />
<circle cx="92.04" cy="405.21" r="0.35" fill="#fbd2cc" stroke="none" stroke-width="1" />
<circle cx="101.22" cy="402.8" r="1" fill="#ffffff" stroke="#b4c4b4" stroke-width="0.35" />
<circle cx="128.82" cy="381.11" r="1" fill="#f08b7e" stroke="none" stroke-width="1" />
<circle cx="128.52" cy="380.71" r="0.35" fill="#fbd2cc" stroke="none" stroke-width="1" />
<circle cx="109.91" cy="392.63" r="1" fill="#ffffff" stroke="#b4c4b4" stroke-width="0.35" />
<circle cx="147.94" cy="396.29" r="1" fill="#f08b7e" stroke="none" stroke-width="1" />
<circle cx="147.64" cy="395.89" r="0.35" fill="#fbd2cc" stroke="none" stroke-width="1" />
<circle cx="140.09" cy="387.51" r="1" fill="#f08b7e" stroke="none" stroke-width="1" />
<circle cx="139.79" cy="387.11" r="0.35" fill="#fbd2cc" stroke="none" stroke-width="1" />
<circle cx="96.41" cy="387.73" r="1" fill="#ffffff" stroke="#b4c4b4" stroke-width="0.35" />
<circle cx="132.85" cy="403.55" r="1" fill="#ffffff" stroke="#b4c4b4" stroke-width="0.35" />
<circle cx="143.74" cy="395.1" r="1" fill="#ffffff" stroke="#b4c4b4" stroke-width="0.35" />
<circle cx="117.62" cy="399.71" r="1" fill="#ffffff" stroke="#b4c4b4" stroke-width="0.35" />
<circle cx="116.33" cy="386.3" r="1" fill="#f08b7e" stroke="none" stroke-width="1" />
<circle cx="116.03" cy="385.9" r="0.35" fill="#fbd2cc" stroke="none" stroke-width="1" />
<circle cx="113.08" cy="386.27" r="1" fill="#ffffff" stroke="#b4c4b4" stroke-width="0.35" />
<circle cx="106.08" cy="406.13" r="1" fill="#ffffff" stroke="#b4c4b4" stroke-width="0.35" />
<circle cx="129.55" cy="406" r="1" fill="#ffffff" stroke="#b4c4b4" stroke-width="0.35" />
<circle cx="91.01" cy="387.38" r="1" fill="#ffffff" stroke="#b4c4b4" stroke-width="0.35" />
<circle cx="129.56" cy="387.8" r="1" fill="#f08b7e" stroke="none" stroke-width="1" />
<circle cx="129.26" cy="387.4" r="0.35" fill="#fbd2cc" stroke="none" stroke-width="1" />
<circle cx="93.83" cy="395.09" r="1" fill="#f08b7e" stroke="none" stroke-width="1" />
<circle cx="93.53" cy="394.69" r="0.35" fill="#fbd2cc" stroke="none" stroke-width="1" />
<circle cx="111.95" cy="404.31" r="1" fill="#ffffff" stroke="#b4c4b4" stroke-width="0.35" />
<circle cx="117.01" cy="394.94" r="1" fill="#f08b7e" stroke="none" stroke-width="1" />
<circle cx="116.71" cy="394.54" r="0.35" fill="#fbd2cc" stroke="none" stroke-width="1" />
<circle cx="83.2" cy="387.74" r="1" fill="#f08b7e" stroke="none" stroke-width="1" />
<circle cx="82.9" cy="387.34" r="0.35" fill="#fbd2cc" stroke="none" stroke-width="1" />
<circle cx="137.97" cy="402.49" r="1" fill="#f08b7e" stroke="none" stroke-width="1" />
<circle cx="137.67" cy="402.09" r="0.35" fill="#fbd2cc" stroke="none" stroke-width="1" />
<circle cx="88.66" cy="392.6" r="1" fill="#ffffff" stroke="#b4c4b4" stroke-width="0.35" />
<circle cx="146.43" cy="389.25" r="1" fill="#ffffff" stroke="#b4c4b4" stroke-width="0.35" />
<circle cx="103.02" cy="385.49" r="1" fill="#ffffff" stroke="#b4c4b4" stroke-width="0.35" />
<circle cx="83.28" cy="384.45" r="1" fill="#f08b7e" stroke="none" stroke-width="1" />
<circle cx="82.98" cy="384.05" r="0.35" fill="#fbd2cc" stroke="none" stroke-width="1" />
<circle cx="140.97" cy="385.37" r="1" fill="#ffffff" stroke="#b4c4b4" stroke-width="0.35" />
<circle cx="76.31" cy="389.98" r="1" fill="#f08b7e" stroke="none" stroke-width="1" />
<circle cx="76.01" cy="389.58" r="0.35" fill="#fbd2cc" stroke="none" stroke-width="1" />
<circle cx="83.56" cy="396.16" r="1" fill="#ffffff" stroke="#b4c4b4" stroke-width="0.35" />
<line x1="62.2" y1="356.6" x2="112.5" y2="391.2" stroke="#222" stroke-width="0.75" />
<line x1="166.2" y1="356" x2="119.2" y2="390.6" stroke="#222" stroke-width="0.75" />
<ellipse cx="115.8" cy="391.4" rx="3.6" ry="2.6" fill="none" stroke="#444" stroke-width="0.5" stroke-dasharray="1 0.8"/>
<polygon points="16,348.4 42,323 178,323 203.2,348.4" fill="url(#gPlane)" stroke="none" stroke-width="1" />
<rect x="15.2" y="348.4" width="188" height="7" fill="url(#gBand)" stroke="none" stroke-width="1" />
<ellipse cx="113.3" cy="307.8" rx="101.6" ry="57.6" fill="none" stroke="#1e1e1e" stroke-width="0.9" stroke-dasharray="3.2 2.2"/>
<polyline points="48.6,331.4 49.19,331.64 49.74,331.89 50.24,332.13 50.64,332.38 50.93,332.62 51.09,332.87 51.11,333.11 51,333.36 50.75,333.6 50.38,333.85 49.92,334.09 49.38,334.34 48.8,334.58 48.21,334.83 47.64,335.07 47.12,335.32 46.68,335.56 46.35,335.81 46.15,336.05 46.08,336.3 46.15,336.54 46.35,336.79 46.68,337.03 47.12,337.28 47.64,337.52 48.21,337.77 48.8,338.01 49.38,338.26 49.92,338.5 50.38,338.75 50.75,339 51,339.24 51.11,339.48 51.09,339.73 50.93,339.97 50.64,340.22 50.24,340.46 49.74,340.71 49.19,340.95 48.6,341.2" fill="none" stroke="#111" stroke-width="1.35" stroke-linejoin="round"/>
<polyline points="78.5,316.4 78.84,316.59 79.17,316.77 79.48,316.96 79.77,317.15 80.03,317.34 80.25,317.52 80.42,317.71 80.55,317.9 80.63,318.09 80.66,318.27 80.63,318.46 80.55,318.65 80.42,318.84 80.25,319.02 80.03,319.21 79.77,319.4 79.48,319.59 79.17,319.77 78.84,319.96 78.5,320.15 78.16,320.34 77.83,320.52 77.52,320.71 77.23,320.9 76.97,321.09 76.75,321.27 76.58,321.46 76.45,321.65 76.37,321.84 76.34,322.02 76.37,322.21 76.45,322.4 76.58,322.59 76.75,322.77 76.97,322.96 77.23,323.15 77.52,323.34 77.83,323.52 78.16,323.71 78.5,323.9" fill="none" stroke="#111" stroke-width="1.35" stroke-linejoin="round"/>
<polyline points="106,328.2 106.59,328.45 107.14,328.71 107.64,328.96 108.04,329.22 108.33,329.47 108.49,329.73 108.51,329.99 108.4,330.24 108.15,330.5 107.78,330.75 107.32,331 106.78,331.26 106.2,331.51 105.61,331.77 105.04,332.02 104.52,332.28 104.08,332.53 103.75,332.79 103.55,333.05 103.48,333.3 103.55,333.56 103.75,333.81 104.08,334.06 104.52,334.32 105.04,334.57 105.61,334.83 106.2,335.08 106.78,335.34 107.32,335.59 107.78,335.85 108.15,336.1 108.4,336.36 108.51,336.62 108.49,336.87 108.33,337.12 108.04,337.38 107.64,337.63 107.14,337.89 106.59,338.14 106,338.4" fill="none" stroke="#111" stroke-width="1.35" stroke-linejoin="round"/>
<polyline points="132.8,321.2 133.3,321.45 133.78,321.7 134.2,321.95 134.55,322.2 134.8,322.45 134.93,322.7 134.95,322.95 134.85,323.2 134.64,323.45 134.33,323.7 133.93,323.95 133.47,324.2 132.97,324.45 132.46,324.7 131.97,324.95 131.53,325.2 131.16,325.45 130.88,325.7 130.7,325.95 130.64,326.2 130.7,326.45 130.88,326.7 131.16,326.95 131.53,327.2 131.97,327.45 132.46,327.7 132.97,327.95 133.47,328.2 133.93,328.45 134.33,328.7 134.64,328.95 134.85,329.2 134.95,329.45 134.93,329.7 134.8,329.95 134.55,330.2 134.2,330.45 133.78,330.7 133.3,330.95 132.8,331.2" fill="none" stroke="#111" stroke-width="1.35" stroke-linejoin="round"/>
<polyline points="162.6,329.4 163.19,329.65 163.74,329.9 164.24,330.15 164.64,330.4 164.93,330.65 165.09,330.9 165.11,331.15 165,331.4 164.75,331.65 164.38,331.9 163.92,332.15 163.38,332.4 162.8,332.65 162.21,332.9 161.64,333.15 161.12,333.4 160.68,333.65 160.35,333.9 160.15,334.15 160.08,334.4 160.15,334.65 160.35,334.9 160.68,335.15 161.12,335.4 161.64,335.65 162.21,335.9 162.8,336.15 163.38,336.4 163.92,336.65 164.38,336.9 164.75,337.15 165,337.4 165.11,337.65 165.09,337.9 164.93,338.15 164.64,338.4 164.24,338.65 163.74,338.9 163.19,339.15 162.6,339.4" fill="none" stroke="#111" stroke-width="1.35" stroke-linejoin="round"/>
<circle cx="52.2" cy="313.4" r="19.5" fill="#5b0f0f" stroke="none" stroke-width="1" />
<circle cx="52.2" cy="313.4" r="14.2" fill="#5b6cc0" stroke="none" stroke-width="1" />
<circle cx="79.1" cy="307.1" r="9.8" fill="#c49aa6" stroke="none" stroke-width="1" filter="url(#blur15)" opacity="0.9"/>
<circle cx="79.1" cy="307.1" r="7.2" fill="#b3bbea" stroke="none" stroke-width="1" filter="url(#blur05)"/>
<circle cx="79.1" cy="307.1" r="5.4" fill="#7282c8" stroke="none" stroke-width="1" filter="url(#blur05)"/>
<circle cx="107.2" cy="310.2" r="19.5" fill="#5b0f0f" stroke="none" stroke-width="1" />
<circle cx="107.2" cy="310.2" r="14.2" fill="#b9bde8" stroke="none" stroke-width="1" />
<circle cx="135.1" cy="308.9" r="10" fill="#b27880" stroke="none" stroke-width="1" filter="url(#blur15)" opacity="0.9"/>
<circle cx="135.1" cy="308.9" r="7.7" fill="#bcc4e9" stroke="none" stroke-width="1" filter="url(#blur05)"/>
<circle cx="135.1" cy="308.9" r="7.6" fill="#bcc4e9" stroke="none" stroke-width="1" filter="url(#blur05)"/>
<circle cx="165.6" cy="311.4" r="19.5" fill="#5b0f0f" stroke="none" stroke-width="1" />
<circle cx="165.6" cy="311.4" r="14.2" fill="#e5e5f5" stroke="none" stroke-width="1" />
<polygon points="66.8,271.2 63.3,277.4 70.3,277.4" fill="#000" stroke="none" stroke-width="1" />
<polygon points="44.5,305 40.5,311.5 47.5,311.5" fill="#000" stroke="none" stroke-width="1" />
<polygon points="58.7,312.6 55,319.4 62.3,319.4" fill="#000" stroke="none" stroke-width="1" />
<circle cx="42" cy="314.4" r="1.6" fill="none" stroke="#e0842c" stroke-width="0.95" />
<circle cx="46.8" cy="318" r="1.6" fill="none" stroke="#e0842c" stroke-width="0.95" />
<circle cx="52.4" cy="315.5" r="1.6" fill="none" stroke="#e0842c" stroke-width="0.95" />
<circle cx="54.1" cy="311.1" r="1.6" fill="none" stroke="#e0842c" stroke-width="0.95" />
<circle cx="51.8" cy="322.9" r="1.6" fill="none" stroke="#e0842c" stroke-width="0.95" />
<circle cx="61.8" cy="308.3" r="1.6" fill="none" stroke="#e0842c" stroke-width="0.95" />
<text x="88" y="266.1" font-size="8.3" textLength="7.8" lengthAdjust="spacingAndGlyphs">K<tspan font-size="5.5" dy="-3">+</tspan></text>
<circle cx="91.8" cy="272.5" r="1.6" fill="none" stroke="#e0842c" stroke-width="0.95" />
<circle cx="100.9" cy="273.7" r="1.6" fill="none" stroke="#e0842c" stroke-width="0.95" />
<circle cx="97.4" cy="279.8" r="1.6" fill="none" stroke="#e0842c" stroke-width="0.95" />
<polygon points="124.7,271.9 121.1,278.4 128.3,278.4" fill="#000" stroke="none" stroke-width="1" />
<text x="125" y="267.6" font-size="8.8" textLength="12.2" lengthAdjust="spacingAndGlyphs">DA</text>
<polygon points="112.3,311.8 108.9,318.3 115.8,318.3" fill="#000" stroke="none" stroke-width="1" />
<circle cx="96" cy="308.5" r="1.6" fill="none" stroke="#e0842c" stroke-width="0.95" />
<circle cx="101.8" cy="316" r="1.6" fill="none" stroke="#e0842c" stroke-width="0.95" />
<polygon points="188.4,274.2 184.6,280.2 192.2,280.2" fill="#000" stroke="none" stroke-width="1" />
<circle cx="157.4" cy="265.7" r="1.6" fill="none" stroke="#e0842c" stroke-width="0.95" />
<circle cx="150.2" cy="270" r="1.6" fill="none" stroke="#e0842c" stroke-width="0.95" />
<circle cx="167.5" cy="268.4" r="1.6" fill="none" stroke="#e0842c" stroke-width="0.95" />
<circle cx="161.9" cy="272.5" r="1.6" fill="none" stroke="#e0842c" stroke-width="0.95" />
<circle cx="156" cy="274.9" r="1.6" fill="none" stroke="#e0842c" stroke-width="0.95" />
<circle cx="170.6" cy="275.2" r="1.6" fill="none" stroke="#e0842c" stroke-width="0.95" />
<circle cx="150.2" cy="279.5" r="1.6" fill="none" stroke="#e0842c" stroke-width="0.95" />
<circle cx="160.5" cy="279" r="1.6" fill="none" stroke="#e0842c" stroke-width="0.95" />
<ellipse cx="54.3" cy="295.8" rx="5.4" ry="8.1" fill="#3b87c9" stroke="#111" stroke-width="0.7"/>
<ellipse cx="54.3" cy="295.8" rx="2.16" ry="4.62" fill="#3a0808" stroke="#111" stroke-width="0.6"/>
<path d="M54.6,302.3 C54.4,297.8 54.2,291.3 53.4,287.3 C52.5,284.3 50.6,283.2 49.4,281.4" fill="none" stroke="#111" stroke-width="1.25" />
<polyline points="52.92,282.18 49.4,281.4 48.8,284.95" fill="none" stroke="#111" stroke-width="1.25" stroke-linejoin="miter"/>
<path d="M63.8,280.3 C60,282 57.6,285 56,289 C54.8,293 55,300 55.3,305 L57,310" fill="none" stroke="#111" stroke-width="1.25" />
<polyline points="54.08,308.26 57,310 58.34,306.88" fill="none" stroke="#111" stroke-width="1.25" stroke-linejoin="miter"/>
<line x1="51.2" y1="302.9" x2="44.7" y2="307.6" stroke="#111" stroke-width="0.9" />
<ellipse cx="108.3" cy="295" rx="5.4" ry="8.1" fill="#3b87c9" stroke="#111" stroke-width="0.7"/>
<ellipse cx="108.3" cy="295" rx="2.16" ry="4.62" fill="#3a0808" stroke="#111" stroke-width="0.6"/>
<path d="M108.6,301.5 C108.4,297 108.2,290.5 107.4,286.5 C106.5,283.5 105.2,279.6 104,277.8" fill="none" stroke="#111" stroke-width="1.25" />
<polyline points="107.52,278.58 104,277.8 103.4,281.35" fill="none" stroke="#111" stroke-width="1.25" stroke-linejoin="miter"/>
<path d="M118.6,279.2 C114.8,280.9 111.6,284.2 110,288.2 C108.8,292.2 109,299.2 109.3,304.2 L111.4,308.8" fill="none" stroke="#111" stroke-width="1.25" />
<polyline points="108.48,307.06 111.4,308.8 112.74,305.68" fill="none" stroke="#111" stroke-width="1.25" stroke-linejoin="miter"/>
<line x1="105.2" y1="302.1" x2="99.3" y2="304.6" stroke="#111" stroke-width="0.9" />
<ellipse cx="169.1" cy="295" rx="5.4" ry="8.1" fill="#3b87c9" stroke="#111" stroke-width="0.7"/>
<ellipse cx="169.1" cy="295" rx="2.16" ry="4.62" fill="#3a0808" stroke="#111" stroke-width="0.6"/>
<path d="M169.4,301.5 C169.2,297 169,290.5 168.2,286.5 C167.3,283.5 167.2,280.2 166,278.4" fill="none" stroke="#111" stroke-width="1.25" />
<polyline points="169.52,279.18 166,278.4 165.4,281.95" fill="none" stroke="#111" stroke-width="1.25" stroke-linejoin="miter"/>
<path d="M180,279.5 C176.2,281.2 172.4,284.2 170.8,288.2 C169.6,292.2 169.8,299.2 170.1,304.2 L172.4,309.2" fill="none" stroke="#111" stroke-width="1.25" />
<polyline points="169.48,307.46 172.4,309.2 173.74,306.08" fill="none" stroke="#111" stroke-width="1.25" stroke-linejoin="miter"/>
<line x1="166" y1="302.1" x2="160.7" y2="305.8" stroke="#111" stroke-width="0.9" />
<path d="M42.6,425.2 C42.35,425.03 41.13,426.53 40.5,427.4 C39.87,428.27 39.13,429.4 38.8,430.4 C38.47,431.4 38.4,432.4 38.5,433.4 C38.6,434.4 38.92,435.6 39.4,436.4 C39.88,437.2 40.68,437.85 41.4,438.2 C42.12,438.55 42.93,438.67 43.7,438.5 C44.47,438.33 45.38,437.83 46,437.2 C46.62,436.57 47.07,435.67 47.4,434.7 C47.73,433.73 47.95,432.45 48,431.4 C48.05,430.35 47.9,429.27 47.7,428.4 C47.5,427.53 47.13,426.23 46.8,426.2 C46.47,426.17 46.03,427.48 45.7,428.2 C45.37,428.92 44.98,429.63 44.8,430.5 C44.62,431.37 44.78,432.57 44.6,433.4 C44.42,434.23 44.07,435.12 43.7,435.5 C43.33,435.88 42.75,435.97 42.4,435.7 C42.05,435.43 41.75,434.62 41.6,433.9 C41.45,433.18 41.43,432.32 41.5,431.4 C41.57,430.48 41.82,429.43 42,428.4 C42.18,427.37 42.85,425.37 42.6,425.2Z" fill="#3b87c9" stroke="#111" stroke-width="0.8" stroke-linejoin="round"/>
<text x="52.2" y="437.9" font-size="11" textLength="27.3" lengthAdjust="spacingAndGlyphs">dDAT</text>
<circle cx="103.6" cy="433.2" r="1.5" fill="none" stroke="#e0842c" stroke-width="0.95" />
<text x="109.4" y="437.9" font-size="11" textLength="10.6" lengthAdjust="spacingAndGlyphs">K<tspan font-size="7" dy="-3.8">+</tspan></text>
<polygon points="149.1,431.1 145.6,437.9 152.6,437.9" fill="#000" stroke="none" stroke-width="1" />
<text x="157.3" y="437.9" font-size="11" textLength="15.7" lengthAdjust="spacingAndGlyphs">DA</text>
<text x="222.7" y="12.9" font-size="17" font-weight="bold">b</text>
<line x1="299.5" y1="32" x2="299.5" y2="183" stroke="#111" stroke-width="1" stroke-dasharray="1 1"/>
<polyline points="286,137.4 287.05,142.81 288.1,157.6 289.1,150.16 290.1,137.4 291.1,145.5 292.1,132.3 293.1,149.5 294.6,127.2 295.8,145.5 297.2,137.4 298.6,141.4 299.8,131.3 300.8,177.9 301.8,139.4 302.9,125.2 303.9,117.1 304.9,129.3 305.9,115 307.3,121.1 308.7,111 309.7,109 310.7,86.7 311.9,106.9 313.4,102.9 314.8,86.7 316,76.5 317.4,80.6 318.8,70.4 320.1,60.3 321.5,68.4 322.9,76.5 324.1,64.3 325.5,58.3 326.5,48.1 327.5,80.6 328.4,99.8 329.2,84.79 330,66 331,61.91 332,58.4 333.5,97.5 334.4,82.42 335.3,75.3 336.45,67.5 337.6,51.5 339.2,75.3 340.1,66.71 341,49.5 341.85,76.32 342.7,102.8 343.6,93.72 344.5,84.5 345.65,73.9 346.8,70.7 347.9,57.6 348.9,53.34 349.9,63 350.9,69.99 351.9,80.6 352.8,70.7 353.7,58.4 355.25,59.67 356.8,73 357.95,72.11 359.1,63 360.1,49.9 361.1,44.3 362.6,78.3 363.55,62.71 364.5,54.6 365.65,59.29 366.8,76.8 367.75,77.62 368.7,64.5 369.65,76.29 370.6,81.4 371.75,77.45 372.9,63 374.05,78.42 375.2,90.6 376.1,78.73 377,79.9 378,83.61 379,92.1 380.5,56.1 381.65,74.82 382.8,93.6 384.4,101.3 385.3,79.07 386.2,67.6 387.2,81.58 388.2,82.9 389.35,76.46 390.5,73.7 392,76.8 392.95,62.37 393.9,57.6 395.1,92.9 396.6,70.7 397.75,75.9 398.9,72.2 400.05,79.2 401.2,96.7 402,96.59 402.8,84.5 404.3,112 405.45,100.64 406.6,90.6 407.75,79.83 408.9,67.6 409.9,68.45 410.9,73.7 411.8,82.69 412.7,92.1 413.85,96.92 415,110.5 415.8,93.27 416.6,89 418.1,95.2 419.3,80.6 420.4,108.2" fill="none" stroke="#b3282a" stroke-width="2.3" stroke-linejoin="round"/>
<line x1="294.5" y1="153" x2="324.7" y2="63.6" stroke="#000" stroke-width="2.4" stroke-dasharray="4.2 2.6"/>
<line x1="280.1" y1="30.2" x2="280.1" y2="183.9" stroke="#000" stroke-width="1.3" />
<line x1="279.5" y1="183.3" x2="425.6" y2="183.3" stroke="#000" stroke-width="1.3" />
<line x1="277.8" y1="179.3" x2="280.1" y2="179.3" stroke="#000" stroke-width="1" />
<line x1="277.8" y1="158.3" x2="280.1" y2="158.3" stroke="#000" stroke-width="1" />
<line x1="277.8" y1="137.3" x2="280.1" y2="137.3" stroke="#000" stroke-width="1" />
<line x1="277.8" y1="116.3" x2="280.1" y2="116.3" stroke="#000" stroke-width="1" />
<line x1="277.8" y1="95.3" x2="280.1" y2="95.3" stroke="#000" stroke-width="1" />
<line x1="277.8" y1="74.3" x2="280.1" y2="74.3" stroke="#000" stroke-width="1" />
<line x1="277.8" y1="53.3" x2="280.1" y2="53.3" stroke="#000" stroke-width="1" />
<line x1="285.9" y1="183.3" x2="285.9" y2="185.2" stroke="#000" stroke-width="1" />
<line x1="312.82" y1="183.3" x2="312.82" y2="185.2" stroke="#000" stroke-width="1" />
<line x1="339.74" y1="183.3" x2="339.74" y2="185.2" stroke="#000" stroke-width="1" />
<line x1="366.66" y1="183.3" x2="366.66" y2="185.2" stroke="#000" stroke-width="1" />
<line x1="393.58" y1="183.3" x2="393.58" y2="185.2" stroke="#000" stroke-width="1" />
<line x1="420.5" y1="183.3" x2="420.5" y2="185.2" stroke="#000" stroke-width="1" />
<text x="269" y="55.8" font-size="9.3" text-anchor="end" textLength="28.4" lengthAdjust="spacingAndGlyphs">90,000</text>
<text x="269" y="118.8" font-size="9.3" text-anchor="end" textLength="28.4" lengthAdjust="spacingAndGlyphs">60,000</text>
<text x="269" y="181.8" font-size="9.3" text-anchor="end" textLength="28.4" lengthAdjust="spacingAndGlyphs">30,000</text>
<text x="286.4" y="193.6" font-size="9.6" text-anchor="middle">0</text>
<text x="313.32" y="193.6" font-size="9.6" text-anchor="middle">2</text>
<text x="340.24" y="193.6" font-size="9.6" text-anchor="middle">4</text>
<text x="367.16" y="193.6" font-size="9.6" text-anchor="middle">6</text>
<text x="394.08" y="193.6" font-size="9.6" text-anchor="middle">8</text>
<text x="421" y="193.6" font-size="9.6" text-anchor="middle" textLength="10" lengthAdjust="spacingAndGlyphs">10</text>
<text x="319.7" y="207.8" font-size="11.9" textLength="56.5" lengthAdjust="spacingAndGlyphs">Time (min)</text>
<text transform="translate(230.1 114.9) rotate(-90)" x="0" y="0" font-size="11.2" text-anchor="middle" textLength="100.7" lengthAdjust="spacingAndGlyphs">Intensity (arb. units)</text>
<line x1="320" y1="145.8" x2="341.6" y2="145.8" stroke="#c8443a" stroke-width="2" />
<line x1="320.7" y1="162.8" x2="341" y2="162.8" stroke="#000" stroke-width="2.3" stroke-dasharray="4.2 2.6"/>
<text x="349.4" y="150.2" font-size="11.6" textLength="12.6" lengthAdjust="spacingAndGlyphs">Na</text>
<text x="365.8" y="146.6" font-size="7.2">+</text>
<text x="376.3" y="150.2" font-size="11.6" textLength="46.4" lengthAdjust="spacingAndGlyphs">indicator</text>
<text x="349.3" y="163.4" font-size="11.2" textLength="13.4" lengthAdjust="spacingAndGlyphs">Fit</text>
<rect x="376.8" y="15.4" width="66.2" height="39.3" fill="#fff" stroke="#a8a8a8" stroke-width="1" />
<line x1="381.7" y1="35.3" x2="426.4" y2="35.3" stroke="#222" stroke-width="1.3" />
<line x1="426.5" y1="16" x2="426.5" y2="54.2" stroke="#111" stroke-width="1" stroke-dasharray="1 1"/>
<polyline points="380.8,29.8 384.3,31.5 387,40.3 390.4,40 394,35.9 397.4,27.7 400,37.7 402.7,26.3 405.3,28 408.3,25.4 411.5,34.2 414,36 416.4,30.7 418.5,36.8 421.1,32.4 423.7,36 425.5,36.8 428.1,50 430.7,28.9 433.4,23.7 436,31.5 439.5,20.1" fill="none" stroke="#b22a2a" stroke-width="1.8" stroke-linejoin="round"/>
<line x1="301.5" y1="280" x2="301.5" y2="425.5" stroke="#111" stroke-width="1" stroke-dasharray="1 1"/>
<polyline points="285.6,286.4 286.9,310 288,290 288.9,307.3 290.2,287.3 291.1,305.5 292,288.2 293.3,312.7 294.7,301.8 295.6,327.3 296.5,288.2 297.6,329.1 298.7,320 299.6,332.7 300.5,316.4 301.3,338.2 302.4,323.6 303.5,312.7 304.7,298.2 306,301.8 307.1,293.6 308,298.2 308.9,290 310.2,334.5 311.5,316.4 312.5,345.5 313.8,332.7 315.1,389.1 316.2,325.5 317.5,334.5 318.7,303.6 319.8,316.4 321.1,358.2 322.4,327.3 323.8,345.5 325.3,354.5 326.4,334.5 327.8,361.8 328.9,352.7 330.2,374.5 331.5,385.5 332.5,345.5 333.8,374.5 335.1,381.8 336.3,376 337.4,345.8 338.7,353.7 340,395.7 340.8,389.88 341.6,369.4 342.6,399.6 343.5,365.5 344.9,382.6 346.2,386.5 347.5,369.4 348.8,365.5 350.1,393.1 351.4,407.5 352.3,362.8 353.4,376 354.7,369.4 356,394.4 357.1,379.9 358,353.7 359.3,382.6 360.6,373.4 361.9,390.4 363.2,370.7 364.6,385.2 365.6,414.1 366.8,377.3 368.1,390.4 368.95,388.6 369.8,398.3 371.1,369.4 372.4,379.9 373.8,390.4 375.1,360.2 376.4,361.5 377.3,403.6 378.6,385.2 380.1,379.9 381.2,406.2 382.3,385.2 383.6,369.4 384.7,361.5 386,398.3 387.3,376 388.6,377.3 389.5,385.2 390.6,370.7 391.8,369.4 392.8,398.3 394.4,382.6 395.7,378.6 397,395.7 398.1,412.8 399.1,379.9 400.4,403.6 401.4,393.1 402.3,414.1 403.3,393.1 404.6,369.4 406,358.9 407,393.1 408.1,376 409.2,382.6 410.6,376 411.9,398.3 413.2,374.7 414.5,406.2 415.8,381.2 417.1,408.8 418,369.4 419.1,376 420.1,410.1 421.1,379.9 421.7,379.9" fill="none" stroke="#4a67ba" stroke-width="2.3" stroke-linejoin="round"/>
<polyline points="315.7,324.8 317.84,331.67 319.99,337.83 322.13,343.35 324.28,348.29 326.43,352.72 328.57,356.69 330.71,360.24 332.86,363.42 335,366.28 337.15,368.83 339.3,371.12 341.44,373.17 343.58,375.01 345.73,376.65 347.88,378.12 350.02,379.45 352.16,380.63 354.31,381.69 356.45,382.64 358.6,383.49 360.75,384.25 362.89,384.93 365.03,385.54 367.18,386.09 369.32,386.58 371.47,387.02 373.62,387.41 375.76,387.77 377.9,388.08 380.05,388.37 382.19,388.62 384.34,388.85 386.49,389.05 388.63,389.23 390.77,389.4 392.92,389.54 395.06,389.67 397.21,389.79 399.36,389.9 401.5,389.99" fill="none" stroke="#000" stroke-width="2.3" stroke-dasharray="4.4 2.6"/>
<line x1="279.7" y1="278.8" x2="279.7" y2="426.6" stroke="#000" stroke-width="1.3" />
<line x1="279.1" y1="426" x2="428.1" y2="426" stroke="#000" stroke-width="1.3" />
<line x1="277.6" y1="288.5" x2="279.7" y2="288.5" stroke="#000" stroke-width="1" />
<line x1="277.6" y1="306.9" x2="279.7" y2="306.9" stroke="#000" stroke-width="1" />
<line x1="277.6" y1="325.3" x2="279.7" y2="325.3" stroke="#000" stroke-width="1" />
<line x1="277.6" y1="343.7" x2="279.7" y2="343.7" stroke="#000" stroke-width="1" />
<line x1="277.6" y1="362.1" x2="279.7" y2="362.1" stroke="#000" stroke-width="1" />
<line x1="277.6" y1="380.5" x2="279.7" y2="380.5" stroke="#000" stroke-width="1" />
<line x1="277.6" y1="398.9" x2="279.7" y2="398.9" stroke="#000" stroke-width="1" />
<line x1="277.6" y1="417.3" x2="279.7" y2="417.3" stroke="#000" stroke-width="1" />
<line x1="285.9" y1="426" x2="285.9" y2="427.9" stroke="#000" stroke-width="1" />
<line x1="312.82" y1="426" x2="312.82" y2="427.9" stroke="#000" stroke-width="1" />
<line x1="339.74" y1="426" x2="339.74" y2="427.9" stroke="#000" stroke-width="1" />
<line x1="366.66" y1="426" x2="366.66" y2="427.9" stroke="#000" stroke-width="1" />
<line x1="393.58" y1="426" x2="393.58" y2="427.9" stroke="#000" stroke-width="1" />
<line x1="420.5" y1="426" x2="420.5" y2="427.9" stroke="#000" stroke-width="1" />
<text x="268.7" y="290.8" font-size="9.3" text-anchor="end" textLength="28.6" lengthAdjust="spacingAndGlyphs">160,000</text>
<text x="268.7" y="333.6" font-size="9.3" text-anchor="end" textLength="28.6" lengthAdjust="spacingAndGlyphs">140,000</text>
<text x="268.7" y="375.8" font-size="9.3" text-anchor="end" textLength="28.6" lengthAdjust="spacingAndGlyphs">120,000</text>
<text x="268.7" y="417.9" font-size="9.3" text-anchor="end" textLength="28.6" lengthAdjust="spacingAndGlyphs">100,000</text>
<text x="286.2" y="436.6" font-size="9.6" text-anchor="middle">0</text>
<text x="313" y="436.6" font-size="9.6" text-anchor="middle">2</text>
<text x="339.8" y="436.6" font-size="9.6" text-anchor="middle">4</text>
<text x="366.6" y="436.6" font-size="9.6" text-anchor="middle">6</text>
<text x="393.4" y="436.6" font-size="9.6" text-anchor="middle">8</text>
<text x="420.2" y="436.6" font-size="9.6" text-anchor="middle" textLength="10" lengthAdjust="spacingAndGlyphs">10</text>
<text x="330.4" y="450.4" font-size="11.9" textLength="57.1" lengthAdjust="spacingAndGlyphs">Time (min)</text>
<text transform="translate(230.4 352.2) rotate(-90)" x="0" y="0" font-size="11.2" text-anchor="middle" textLength="100.7" lengthAdjust="spacingAndGlyphs">Intensity (arb. units)</text>
<line x1="339.1" y1="323" x2="357.2" y2="323" stroke="#5a74c4" stroke-width="2" />
<line x1="337.9" y1="335.9" x2="358" y2="335.9" stroke="#000" stroke-width="2.3" stroke-dasharray="4.2 2.6"/>
<text x="365" y="326.7" font-size="11.6" textLength="7.4" lengthAdjust="spacingAndGlyphs">K</text>
<text x="374.2" y="323" font-size="7.2">+</text>
<text x="384.3" y="326.7" font-size="11.6" textLength="46.4" lengthAdjust="spacingAndGlyphs">indicator</text>
<text x="365" y="337.5" font-size="11.2" textLength="13.4" lengthAdjust="spacingAndGlyphs">Fit</text>
<rect x="376.4" y="271" width="66.9" height="39.3" fill="#fff" stroke="#a8a8a8" stroke-width="1" />
<line x1="382.6" y1="289.5" x2="415.8" y2="289.5" stroke="#111" stroke-width="1.3" />
<line x1="416.5" y1="272" x2="416.5" y2="309.8" stroke="#111" stroke-width="1" stroke-dasharray="1 1"/>
<polyline points="383.4,279.3 385.2,288.9 387.8,281.9 390.4,287.2 393.1,281 395.7,286.3 397.4,281.9 400,293.3 402.7,288 404.5,296.8 406.7,281 408.8,295.9 410.6,293.3 413.2,298.5 415,295 416.2,300.6 418.5,297.7 421.1,293.3 424.6,286.3 428.1,286.3 430.7,283.7 432.5,281.9 434.2,300.3 436,288" fill="none" stroke="#4a67ba" stroke-width="1.8" stroke-linejoin="round"/>
<text x="462.1" y="12.2" font-size="17" font-weight="bold">c</text>
<rect x="516.2" y="82.9" width="29.6" height="107.3" fill="#1d1d1f" stroke="none" stroke-width="1" />
<rect x="520.2" y="86.9" width="21.6" height="99.7" fill="#c0513e" stroke="none" stroke-width="1" />
<rect x="580" y="135.8" width="29.5" height="54.4" fill="#1d1d1f" stroke="none" stroke-width="1" />
<rect x="584" y="139.8" width="21.5" height="46.8" fill="#c0513e" stroke="none" stroke-width="1" />
<rect x="645.9" y="186.3" width="25.8" height="3.9" fill="#5a5a5a" stroke="none" stroke-width="1" />
<circle cx="528.4" cy="95.6" r="1" fill="#7b1e16" stroke="none" stroke-width="1" />
<circle cx="531.8" cy="94.8" r="1" fill="#7b1e16" stroke="none" stroke-width="1" />
<circle cx="529" cy="109.7" r="1" fill="#7b1e16" stroke="none" stroke-width="1" />
<circle cx="532.2" cy="112.6" r="1" fill="#7b1e16" stroke="none" stroke-width="1" />
<circle cx="530.7" cy="140.4" r="1" fill="#7b1e16" stroke="none" stroke-width="1" />
<circle cx="594.6" cy="149.2" r="1" fill="#7b1e16" stroke="none" stroke-width="1" />
<circle cx="596.2" cy="148.4" r="1" fill="#7b1e16" stroke="none" stroke-width="1" />
<circle cx="592.6" cy="162.3" r="1" fill="#7b1e16" stroke="none" stroke-width="1" />
<circle cx="596.4" cy="160.6" r="1" fill="#7b1e16" stroke="none" stroke-width="1" />
<circle cx="592.9" cy="167.6" r="1" fill="#7b1e16" stroke="none" stroke-width="1" />
<circle cx="596" cy="171.5" r="1" fill="#7b1e16" stroke="none" stroke-width="1" />
<circle cx="530.2" cy="38.2" r="1.1" fill="#000" stroke="none" stroke-width="1" />
<circle cx="529.2" cy="47" r="1.1" fill="#000" stroke="none" stroke-width="1" />
<circle cx="531.2" cy="49.9" r="1.1" fill="#000" stroke="none" stroke-width="1" />
<circle cx="530.2" cy="59.6" r="1.1" fill="#000" stroke="none" stroke-width="1" />
<circle cx="592.9" cy="123.8" r="1.1" fill="#000" stroke="none" stroke-width="1" />
<circle cx="596.4" cy="125.9" r="1.1" fill="#000" stroke="none" stroke-width="1" />
<circle cx="594.4" cy="82" r="1.1" fill="#000" stroke="none" stroke-width="1" />
<circle cx="597" cy="82" r="1.1" fill="#000" stroke="none" stroke-width="1" />
<line x1="530.6" y1="76.6" x2="530.6" y2="93" stroke="#000" stroke-width="2.3" />
<line x1="594.6" y1="129.5" x2="594.6" y2="144" stroke="#000" stroke-width="2.3" />
<circle cx="530.6" cy="88.5" r="1" fill="#ddd" stroke="none" stroke-width="1" />
<circle cx="594.6" cy="142" r="1" fill="#ddd" stroke="none" stroke-width="1" />
<polyline points="530.6,71.8 530.6,66.8 588.3,66.8 588.3,71.6" fill="none" stroke="#000" stroke-width="1.2" />
<polyline points="595.6,104.6 595.6,99.6 657.5,99.6 657.5,104.6" fill="none" stroke="#000" stroke-width="1.2" />
<path d="M549,60.8 L549,65.6 M546.92,62 L551.08,64.4 M551.08,62 L546.92,64.4 " fill="none" stroke="#111" stroke-width="0.95" />
<path d="M553.97,60.8 L553.97,65.6 M551.89,62 L556.05,64.4 M556.05,62 L551.89,64.4 " fill="none" stroke="#111" stroke-width="0.95" />
<path d="M558.93,60.8 L558.93,65.6 M556.85,62 L561.01,64.4 M561.01,62 L556.85,64.4 " fill="none" stroke="#111" stroke-width="0.95" />
<path d="M563.9,60.8 L563.9,65.6 M561.82,62 L565.98,64.4 M565.98,62 L561.82,64.4 " fill="none" stroke="#111" stroke-width="0.95" />
<path d="M616.8,93.4 L616.8,98.2 M614.72,94.6 L618.88,97 M618.88,94.6 L614.72,97 " fill="none" stroke="#111" stroke-width="0.95" />
<path d="M621.8,93.4 L621.8,98.2 M619.72,94.6 L623.88,97 M623.88,94.6 L619.72,97 " fill="none" stroke="#111" stroke-width="0.95" />
<path d="M626.8,93.4 L626.8,98.2 M624.72,94.6 L628.88,97 M628.88,94.6 L624.72,97 " fill="none" stroke="#111" stroke-width="0.95" />
<path d="M631.8,93.4 L631.8,98.2 M629.72,94.6 L633.88,97 M633.88,94.6 L629.72,97 " fill="none" stroke="#111" stroke-width="0.95" />
<line x1="510.2" y1="17.2" x2="510.2" y2="189.3" stroke="#000" stroke-width="1.2" />
<line x1="509.6" y1="188.6" x2="679.4" y2="188.6" stroke="#000" stroke-width="1.2" />
<line x1="508.2" y1="188.6" x2="510.2" y2="188.6" stroke="#000" stroke-width="1" />
<line x1="508.2" y1="164.24" x2="510.2" y2="164.24" stroke="#000" stroke-width="1" />
<line x1="508.2" y1="139.88" x2="510.2" y2="139.88" stroke="#000" stroke-width="1" />
<line x1="508.2" y1="115.52" x2="510.2" y2="115.52" stroke="#000" stroke-width="1" />
<line x1="508.2" y1="91.16" x2="510.2" y2="91.16" stroke="#000" stroke-width="1" />
<line x1="508.2" y1="66.8" x2="510.2" y2="66.8" stroke="#000" stroke-width="1" />
<line x1="508.2" y1="42.44" x2="510.2" y2="42.44" stroke="#000" stroke-width="1" />
<line x1="508.2" y1="18.08" x2="510.2" y2="18.08" stroke="#000" stroke-width="1" />
<text x="502.4" y="196.2" font-size="10.8" text-anchor="end">0</text>
<text x="502.4" y="171.84" font-size="10.8" text-anchor="end">10</text>
<text x="502.4" y="147.48" font-size="10.8" text-anchor="end">20</text>
<text x="502.4" y="123.12" font-size="10.8" text-anchor="end">30</text>
<text x="502.4" y="98.76" font-size="10.8" text-anchor="end">40</text>
<text x="502.4" y="74.4" font-size="10.8" text-anchor="end">50</text>
<text x="502.4" y="50.04" font-size="10.8" text-anchor="end">60</text>
<text x="502.4" y="25.68" font-size="10.8" text-anchor="end">70</text>
<text transform="translate(485.4 115.6) rotate(-90)" x="0" y="0" font-size="12.8" text-anchor="middle" textLength="152.6" lengthAdjust="spacingAndGlyphs">Responding vesicles (%)</text>
<text transform="translate(520.6 198.6) rotate(45)" x="0" y="0" font-size="12" textLength="23.5" lengthAdjust="spacingAndGlyphs">+DA</text>
<text transform="translate(585.6 197.8) rotate(45)" x="0" y="0" font-size="12" textLength="21.5" lengthAdjust="spacingAndGlyphs">-DA</text>
<text transform="translate(639.8 196.2) rotate(45)" x="0" y="0" font-size="12" textLength="47" lengthAdjust="spacingAndGlyphs">+Nortip</text>
<text x="464.6" y="249.6" font-size="17" font-weight="bold">d</text>
<rect x="518" y="318" width="29.8" height="116" fill="#191b24" stroke="none" stroke-width="1" />
<rect x="522" y="322" width="21.8" height="108.4" fill="#6f7ec8" stroke="none" stroke-width="1" />
<rect x="583.1" y="319.4" width="30" height="114.6" fill="#191b24" stroke="none" stroke-width="1" />
<rect x="587.1" y="323.4" width="22" height="107" fill="#6f7ec8" stroke="none" stroke-width="1" />
<rect x="648.1" y="430" width="30.3" height="4.3" fill="#5a5a5a" stroke="none" stroke-width="1" />
<circle cx="663.3" cy="428.2" r="1.1" fill="#000" stroke="none" stroke-width="1" />
<circle cx="532.7" cy="272.9" r="1.15" fill="#000" stroke="none" stroke-width="1" />
<circle cx="529.7" cy="306.7" r="1.15" fill="#000" stroke="none" stroke-width="1" />
<circle cx="532.3" cy="306.2" r="1.15" fill="#000" stroke="none" stroke-width="1" />
<circle cx="535.5" cy="307.1" r="1.15" fill="#000" stroke="none" stroke-width="1" />
<circle cx="597.8" cy="280" r="1.15" fill="#000" stroke="none" stroke-width="1" />
<circle cx="601.3" cy="284.7" r="1.15" fill="#000" stroke="none" stroke-width="1" />
<circle cx="597.8" cy="293.4" r="1.15" fill="#000" stroke="none" stroke-width="1" />
<circle cx="594.4" cy="303.2" r="1.15" fill="#000" stroke="none" stroke-width="1" />
<circle cx="598" cy="305.7" r="1.15" fill="#000" stroke="none" stroke-width="1" />
<circle cx="530.2" cy="325.8" r="1.15" fill="#0a0a14" stroke="none" stroke-width="1" />
<circle cx="534.1" cy="333" r="1.15" fill="#0a0a14" stroke="none" stroke-width="1" />
<circle cx="532.3" cy="335.1" r="1.15" fill="#0a0a14" stroke="none" stroke-width="1" />
<circle cx="533.8" cy="344.4" r="1.15" fill="#0a0a14" stroke="none" stroke-width="1" />
<circle cx="532" cy="347.4" r="1.15" fill="#0a0a14" stroke="none" stroke-width="1" />
<circle cx="595.7" cy="339.5" r="1.15" fill="#0a0a14" stroke="none" stroke-width="1" />
<circle cx="597.7" cy="344.9" r="1.15" fill="#0a0a14" stroke="none" stroke-width="1" />
<circle cx="600.7" cy="344.9" r="1.15" fill="#0a0a14" stroke="none" stroke-width="1" />
<circle cx="595.1" cy="351.9" r="1.15" fill="#0a0a14" stroke="none" stroke-width="1" />
<circle cx="598.3" cy="350.5" r="1.15" fill="#0a0a14" stroke="none" stroke-width="1" />
<line x1="532.3" y1="314.5" x2="532.3" y2="326" stroke="#000" stroke-width="3.2" />
<line x1="597.8" y1="313.8" x2="597.8" y2="328.2" stroke="#000" stroke-width="3.2" />
<circle cx="532.3" cy="318.6" r="1" fill="#ccc" stroke="none" stroke-width="1" />
<circle cx="597.8" cy="321.3" r="1" fill="#ccc" stroke="none" stroke-width="1" />
<polyline points="532.3,262.5 532.3,253.3 597.8,253.3 597.8,263.3" fill="none" stroke="#000" stroke-width="1.2" />
<polyline points="597.8,273.6 597.8,264.3 663.5,264.3 663.5,273.8" fill="none" stroke="#000" stroke-width="1.2" />
<text x="561.8" y="249.6" font-size="10.3" text-anchor="middle" textLength="22" lengthAdjust="spacingAndGlyphs">n. s.</text>
<path d="M623.1,255.9 L623.1,260.7 M621.02,257.1 L625.18,259.5 M625.18,257.1 L621.02,259.5 " fill="none" stroke="#111" stroke-width="0.95" />
<path d="M628.17,255.9 L628.17,260.7 M626.09,257.1 L630.25,259.5 M630.25,257.1 L626.09,259.5 " fill="none" stroke="#111" stroke-width="0.95" />
<path d="M633.23,255.9 L633.23,260.7 M631.15,257.1 L635.31,259.5 M635.31,257.1 L631.15,259.5 " fill="none" stroke="#111" stroke-width="0.95" />
<path d="M638.3,255.9 L638.3,260.7 M636.22,257.1 L640.38,259.5 M640.38,257.1 L636.22,259.5 " fill="none" stroke="#111" stroke-width="0.95" />
<line x1="511.1" y1="252.2" x2="511.1" y2="433.1" stroke="#000" stroke-width="1.2" />
<line x1="510.5" y1="432.4" x2="685" y2="432.4" stroke="#000" stroke-width="1.2" />
<line x1="509" y1="432.4" x2="511.1" y2="432.4" stroke="#000" stroke-width="1" />
<line x1="509" y1="409.95" x2="511.1" y2="409.95" stroke="#000" stroke-width="1" />
<line x1="509" y1="387.5" x2="511.1" y2="387.5" stroke="#000" stroke-width="1" />
<line x1="509" y1="365.05" x2="511.1" y2="365.05" stroke="#000" stroke-width="1" />
<line x1="509" y1="342.6" x2="511.1" y2="342.6" stroke="#000" stroke-width="1" />
<line x1="509" y1="320.15" x2="511.1" y2="320.15" stroke="#000" stroke-width="1" />
<line x1="509" y1="297.7" x2="511.1" y2="297.7" stroke="#000" stroke-width="1" />
<line x1="509" y1="275.25" x2="511.1" y2="275.25" stroke="#000" stroke-width="1" />
<line x1="509" y1="252.8" x2="511.1" y2="252.8" stroke="#000" stroke-width="1" />
<text x="505" y="439.6" font-size="10.8" text-anchor="end">0</text>
<text x="505" y="394.7" font-size="10.8" text-anchor="end">10</text>
<text x="505" y="349.8" font-size="10.8" text-anchor="end">20</text>
<text x="505" y="304.9" font-size="10.8" text-anchor="end">30</text>
<text x="505" y="260" font-size="10.8" text-anchor="end">40</text>
<text transform="translate(485.6 359) rotate(-90)" x="0" y="0" font-size="12.8" text-anchor="middle" textLength="153.6" lengthAdjust="spacingAndGlyphs">Responding vesicles (%)</text>
<text transform="translate(524.4 439.8) rotate(45)" x="0" y="0" font-size="12" textLength="23.5" lengthAdjust="spacingAndGlyphs">+DA</text>
<text transform="translate(589.8 438) rotate(45)" x="0" y="0" font-size="12" textLength="21.5" lengthAdjust="spacingAndGlyphs">-DA</text>
<text transform="translate(641 439.6) rotate(45)" x="0" y="0" font-size="12" textLength="47" lengthAdjust="spacingAndGlyphs">+Nortip</text>
<line x1="34.2" y1="557.8" x2="34.2" y2="714.5" stroke="#000" stroke-width="1.2" />
<line x1="33.6" y1="713.8" x2="474" y2="713.8" stroke="#3a3a3a" stroke-width="2.2" />
<line x1="31.8" y1="698.3" x2="34.2" y2="698.3" stroke="#000" stroke-width="1" />
<line x1="31.8" y1="648.4" x2="34.2" y2="648.4" stroke="#000" stroke-width="1" />
<line x1="31.8" y1="598.3" x2="34.2" y2="598.3" stroke="#000" stroke-width="1" />
<text transform="translate(28.8 697.4) rotate(-90)" x="0" y="0" font-size="9.8" text-anchor="middle">0</text>
<text transform="translate(28.8 650.4) rotate(-90)" x="0" y="0" font-size="9.8" text-anchor="middle" textLength="9.2" lengthAdjust="spacingAndGlyphs">50</text>
<text transform="translate(28.8 599.7) rotate(-90)" x="0" y="0" font-size="9.8" text-anchor="middle" textLength="14.6" lengthAdjust="spacingAndGlyphs">100</text>
<text transform="translate(13.6 632.2) rotate(-90)" x="0" y="0" font-size="10.6" text-anchor="middle" textLength="155" lengthAdjust="spacingAndGlyphs">&#916; Fluorescence Na<tspan font-size="7" dy="-3.6">+</tspan><tspan dy="3.6"> indicator (l/s)</tspan></text>
<text x="22.4" y="494.9" font-size="17" font-weight="bold">e</text>
<rect x="41.7" y="491.1" width="20.8" height="7.4" fill="#de7d7d" stroke="#262626" stroke-width="1.15" />
<rect x="41.7" y="506" width="20.8" height="7.4" fill="#c0c0c0" stroke="#262626" stroke-width="1.15" />
<text x="70.2" y="498.2" font-size="8.9" textLength="51.8" lengthAdjust="spacingAndGlyphs">NMDG <tspan font-size="6" dy="-3">+</tspan><tspan dy="3">/DA</tspan></text>
<text x="70.2" y="512.7" font-size="8.9" textLength="36" lengthAdjust="spacingAndGlyphs">NMDG <tspan font-size="6" dy="-3">+</tspan></text>
<line x1="63" y1="538.35" x2="67.6" y2="538.35" stroke="#363636" stroke-width="2.1" />
<line x1="79.6" y1="538.35" x2="164.6" y2="538.35" stroke="#363636" stroke-width="2.1" />
<line x1="63" y1="533.15" x2="63" y2="543.55" stroke="#363636" stroke-width="2.1" />
<line x1="164.6" y1="533.15" x2="164.6" y2="543.55" stroke="#363636" stroke-width="2.1" />
<rect x="67.6" y="528.8" width="12" height="19.1" fill="#d46a6a" stroke="#363636" stroke-width="2.1" />
<line x1="71" y1="528.8" x2="71" y2="547.9" stroke="#363636" stroke-width="2.1" />
<line x1="63" y1="561.25" x2="67.9" y2="561.25" stroke="#363636" stroke-width="2.1" />
<line x1="81.9" y1="561.25" x2="131.8" y2="561.25" stroke="#363636" stroke-width="2.1" />
<line x1="63" y1="556.05" x2="63" y2="566.45" stroke="#363636" stroke-width="2.1" />
<line x1="131.8" y1="556.05" x2="131.8" y2="566.45" stroke="#363636" stroke-width="2.1" />
<rect x="67.9" y="551.8" width="14" height="18.9" fill="#bababa" stroke="#363636" stroke-width="2.1" />
<line x1="71.4" y1="551.8" x2="71.4" y2="570.7" stroke="#363636" stroke-width="2.1" />
<polyline points="57.6,540.4 53.7,540.4 53.7,560.9 57.6,560.9" fill="none" stroke="#000" stroke-width="2" stroke-linejoin="round" stroke-linecap="round"/>
<text transform="translate(46.4 550.4) rotate(-90)" x="0" y="0" font-size="10.2" text-anchor="middle" textLength="14.8" lengthAdjust="spacingAndGlyphs">n.s</text>
<path d="M97.8,590.1 C97.97,590.1 98.2,591.85 98.3,593 C98.4,594.15 98.4,595.33 98.4,597 C98.4,598.67 98.32,600.5 98.3,603 C98.28,605.5 98.26,608.83 98.25,612 C98.24,615.17 98.17,618.67 98.25,622 C98.33,625.33 98.41,629 98.7,632 C98.99,635 99.6,637.67 100,640 C100.4,642.33 100.97,644 101.1,646 C101.23,648 100.62,650.17 100.8,652 C100.98,653.83 101.7,655.67 102.2,657 C102.7,658.33 103.08,658.67 103.8,660 C104.52,661.33 105.55,663.33 106.5,665 C107.45,666.67 108.37,668.43 109.5,670 C110.63,671.57 111.5,672.93 113.3,674.4 C115.1,675.87 117.13,677.35 120.3,678.8 C123.47,680.25 128.25,681.65 132.3,683.1 C136.35,684.55 141.92,686.03 144.6,687.5 C147.28,688.97 147.95,690.82 148.4,691.9 C148.85,692.98 148.23,693.27 147.3,694 C146.37,694.73 144.88,695.55 142.8,696.3 C140.72,697.05 137.8,697.77 134.8,698.5 C131.8,699.23 127.8,699.95 124.8,700.7 C121.8,701.45 119.25,702.28 116.8,703 C114.35,703.72 112.43,704.22 110.1,705 C107.77,705.78 104.85,706.93 102.8,707.7 C100.75,708.47 99.47,709.6 97.8,709.6 C96.13,709.6 94.85,708.47 92.8,707.7 C90.75,706.93 87.83,705.78 85.5,705 C83.17,704.22 81.25,703.72 78.8,703 C76.35,702.28 73.8,701.45 70.8,700.7 C67.8,699.95 63.8,699.23 60.8,698.5 C57.8,697.77 54.88,697.05 52.8,696.3 C50.72,695.55 49.23,694.73 48.3,694 C47.37,693.27 46.75,692.98 47.2,691.9 C47.65,690.82 48.32,688.97 51,687.5 C53.68,686.03 59.25,684.55 63.3,683.1 C67.35,681.65 72.13,680.25 75.3,678.8 C78.47,677.35 80.5,675.87 82.3,674.4 C84.1,672.93 84.97,671.57 86.1,670 C87.23,668.43 88.15,666.67 89.1,665 C90.05,663.33 91.08,661.33 91.8,660 C92.52,658.67 92.9,658.33 93.4,657 C93.9,655.67 94.62,653.83 94.8,652 C94.98,650.17 94.37,648 94.5,646 C94.63,644 95.2,642.33 95.6,640 C96,637.67 96.61,635 96.9,632 C97.19,629 97.27,625.33 97.35,622 C97.42,618.67 97.36,615.17 97.35,612 C97.34,608.83 97.32,605.5 97.3,603 C97.28,600.5 97.2,598.67 97.2,597 C97.2,595.33 97.2,594.15 97.3,593 C97.4,591.85 97.63,590.1 97.8,590.1Z" fill="#d06262" stroke="#111" stroke-width="1.3" stroke-linejoin="round"/>
<path d="M97.8,590.1 C97.97,590.1 98.2,591.85 98.3,593 C98.4,594.15 98.4,595.33 98.4,597 C98.4,598.67 98.32,600.5 98.3,603 C98.28,605.5 98.26,608.83 98.25,612 C98.24,615.17 98.19,618.67 98.25,622 C98.31,625.33 98.34,629 98.6,632 C98.86,635 99.43,637.67 99.8,640 C100.17,642.33 100.77,644 100.8,646 C100.83,648 100.07,650.17 100,652 C99.93,653.83 100.23,655.67 100.4,657 C100.57,658.33 100.6,658.67 101,660 C101.4,661.33 102.03,663.33 102.8,665 C103.57,666.67 104.43,668.43 105.6,670 C106.77,671.57 107.88,672.93 109.8,674.4 C111.72,675.87 113.55,677.35 117.1,678.8 C120.65,680.25 126.58,681.65 131.1,683.1 C135.62,684.55 141.32,686.03 144.2,687.5 C147.08,688.97 147.88,690.82 148.4,691.9 C148.92,692.98 148.23,693.27 147.3,694 C146.37,694.73 144.88,695.55 142.8,696.3 C140.72,697.05 137.8,697.77 134.8,698.5 C131.8,699.23 127.8,699.95 124.8,700.7 C121.8,701.45 119.25,702.28 116.8,703 C114.35,703.72 112.43,704.22 110.1,705 C107.77,705.78 104.85,706.97 102.8,707.7 C100.75,708.43 99.47,709.4 97.8,709.4 C96.13,709.4 94.85,708.43 92.8,707.7 C90.75,706.97 87.83,705.78 85.5,705 C83.17,704.22 81.25,703.72 78.8,703 C76.35,702.28 73.8,701.45 70.8,700.7 C67.8,699.95 63.8,699.23 60.8,698.5 C57.8,697.77 54.88,697.05 52.8,696.3 C50.72,695.55 49.23,694.73 48.3,694 C47.37,693.27 46.68,692.98 47.2,691.9 C47.72,690.82 48.52,688.97 51.4,687.5 C54.28,686.03 59.98,684.55 64.5,683.1 C69.02,681.65 74.95,680.25 78.5,678.8 C82.05,677.35 83.88,675.87 85.8,674.4 C87.72,672.93 88.83,671.57 90,670 C91.17,668.43 92.03,666.67 92.8,665 C93.57,663.33 94.2,661.33 94.6,660 C95,658.67 95.03,658.33 95.2,657 C95.37,655.67 95.67,653.83 95.6,652 C95.53,650.17 94.77,648 94.8,646 C94.83,644 95.43,642.33 95.8,640 C96.17,637.67 96.74,635 97,632 C97.26,629 97.29,625.33 97.35,622 C97.41,618.67 97.36,615.17 97.35,612 C97.34,608.83 97.32,605.5 97.3,603 C97.28,600.5 97.2,598.67 97.2,597 C97.2,595.33 97.2,594.15 97.3,593 C97.4,591.85 97.63,590.1 97.8,590.1Z" fill="#c2bab8" stroke="#111" stroke-width="1.3" stroke-linejoin="round"/>
<text x="152" y="494.8" font-size="17" font-weight="bold">f</text>
<rect x="183.2" y="491.1" width="20.3" height="6.9" fill="#a63b2b" stroke="#262626" stroke-width="1.15" />
<rect x="183.2" y="504.8" width="20.3" height="7.4" fill="#9e9e9e" stroke="#262626" stroke-width="1.15" />
<text x="211" y="497.8" font-size="8.9" textLength="28" lengthAdjust="spacingAndGlyphs">K<tspan font-size="6" dy="-3">+</tspan><tspan dy="3">/DA</tspan></text>
<text x="211" y="511.4" font-size="8.9" textLength="10" lengthAdjust="spacingAndGlyphs">K<tspan font-size="6" dy="-3">+</tspan></text>
<line x1="194.3" y1="541.3" x2="200.3" y2="541.3" stroke="#363636" stroke-width="2.1" />
<line x1="221.4" y1="541.3" x2="310.2" y2="541.3" stroke="#363636" stroke-width="2.1" />
<line x1="194.3" y1="536.1" x2="194.3" y2="546.5" stroke="#363636" stroke-width="2.1" />
<line x1="310.2" y1="536.1" x2="310.2" y2="546.5" stroke="#363636" stroke-width="2.1" />
<rect x="200.3" y="532" width="21.1" height="18.6" fill="#9f2120" stroke="#363636" stroke-width="2.1" />
<line x1="206.5" y1="532" x2="206.5" y2="550.6" stroke="#363636" stroke-width="2.1" />
<line x1="194.3" y1="562.8" x2="199" y2="562.8" stroke="#363636" stroke-width="2.1" />
<line x1="212.2" y1="562.8" x2="259.3" y2="562.8" stroke="#363636" stroke-width="2.1" />
<line x1="194.3" y1="557.6" x2="194.3" y2="568" stroke="#363636" stroke-width="2.1" />
<line x1="259.3" y1="557.6" x2="259.3" y2="568" stroke="#363636" stroke-width="2.1" />
<rect x="199" y="553.9" width="13.2" height="17.8" fill="#9b9b9b" stroke="#363636" stroke-width="2.1" />
<line x1="203" y1="553.9" x2="203" y2="571.7" stroke="#363636" stroke-width="2.1" />
<polyline points="188,540.2 184.1,540.2 184.1,559.3 188,559.3" fill="none" stroke="#000" stroke-width="2" stroke-linejoin="round" stroke-linecap="round"/>
<path d="M178.3,548.2 L178.3,552.6 M176.39,549.3 L180.21,551.5 M180.21,549.3 L176.39,551.5 " fill="none" stroke="#111" stroke-width="1" />
<path d="M239.6,571.3 C239.77,571.3 239.98,573.55 240.1,575 C240.22,576.45 240.28,578.17 240.3,580 C240.32,581.83 240.25,583.83 240.2,586 C240.15,588.17 240.04,590.67 240,593 C239.96,595.33 239.92,597.83 239.95,600 C239.98,602.17 240.02,604.33 240.2,606 C240.38,607.67 240.72,608.67 241,610 C241.28,611.33 241.65,612.67 241.9,614 C242.15,615.33 242.38,616.83 242.5,618 C242.62,619.17 242.65,619.83 242.6,621 C242.55,622.17 242.33,623.67 242.2,625 C242.07,626.33 241.82,627.67 241.8,629 C241.78,630.33 241.87,631.17 242.1,633 C242.33,634.83 242.75,637.5 243.2,640 C243.65,642.5 244.15,645.83 244.8,648 C245.45,650.17 246.3,651.58 247.1,653 C247.9,654.42 248.63,655.33 249.6,656.5 C250.57,657.67 251.65,658.67 252.9,660 C254.15,661.33 255.57,663.03 257.1,664.5 C258.63,665.97 260.1,667.38 262.1,668.8 C264.1,670.22 266.68,671.55 269.1,673 C271.52,674.45 274.52,676.17 276.6,677.5 C278.68,678.83 280.03,679.83 281.6,681 C283.17,682.17 284.63,683.18 286,684.5 C287.37,685.82 289.28,687.58 289.8,688.9 C290.32,690.22 290.3,691.3 289.1,692.4 C287.9,693.5 285.68,694.4 282.6,695.5 C279.52,696.6 274.77,697.75 270.6,699 C266.43,700.25 261.43,701.67 257.6,703 C253.77,704.33 250.1,705.83 247.6,707 C245.1,708.17 243.93,709.07 242.6,710 C241.27,710.93 240.6,712.6 239.6,712.6 C238.6,712.6 237.93,710.93 236.6,710 C235.27,709.07 234.1,708.17 231.6,707 C229.1,705.83 225.43,704.33 221.6,703 C217.77,701.67 212.77,700.25 208.6,699 C204.43,697.75 199.68,696.6 196.6,695.5 C193.52,694.4 191.3,693.5 190.1,692.4 C188.9,691.3 188.88,690.22 189.4,688.9 C189.92,687.58 191.83,685.82 193.2,684.5 C194.57,683.18 196.03,682.17 197.6,681 C199.17,679.83 200.52,678.83 202.6,677.5 C204.68,676.17 207.68,674.45 210.1,673 C212.52,671.55 215.1,670.22 217.1,668.8 C219.1,667.38 220.57,665.97 222.1,664.5 C223.63,663.03 225.05,661.33 226.3,660 C227.55,658.67 228.63,657.67 229.6,656.5 C230.57,655.33 231.3,654.42 232.1,653 C232.9,651.58 233.75,650.17 234.4,648 C235.05,645.83 235.55,642.5 236,640 C236.45,637.5 236.87,634.83 237.1,633 C237.33,631.17 237.42,630.33 237.4,629 C237.38,627.67 237.13,626.33 237,625 C236.87,623.67 236.65,622.17 236.6,621 C236.55,619.83 236.58,619.17 236.7,618 C236.82,616.83 237.05,615.33 237.3,614 C237.55,612.67 237.92,611.33 238.2,610 C238.48,608.67 238.82,607.67 239,606 C239.18,604.33 239.22,602.17 239.25,600 C239.28,597.83 239.24,595.33 239.2,593 C239.16,590.67 239.05,588.17 239,586 C238.95,583.83 238.88,581.83 238.9,580 C238.92,578.17 238.98,576.45 239.1,575 C239.22,573.55 239.43,571.3 239.6,571.3Z" fill="#a2382a" stroke="#111" stroke-width="1.3" stroke-linejoin="round"/>
<path d="M239.6,628.5 C240.07,628.5 240.62,629.75 241,631 C241.38,632.25 241.63,634.17 241.9,636 C242.17,637.83 242.4,639.83 242.6,642 C242.8,644.17 242.88,646.83 243.1,649 C243.32,651.17 243.57,653.17 243.9,655 C244.23,656.83 244.57,658.42 245.1,660 C245.63,661.58 246.27,663.03 247.1,664.5 C247.93,665.97 248.68,667.38 250.1,668.8 C251.52,670.22 253.35,671.55 255.6,673 C257.85,674.45 260.93,676.17 263.6,677.5 C266.27,678.83 268.88,679.83 271.6,681 C274.32,682.17 277.12,683.18 279.9,684.5 C282.68,685.82 286.68,687.73 288.3,688.9 C289.92,690.07 289.72,690.82 289.6,691.5 C289.48,692.18 288.93,692.42 287.6,693 C286.27,693.58 283.77,694.33 281.6,695 C279.43,695.67 277.22,696.27 274.6,697 C271.98,697.73 268.57,698.65 265.9,699.4 C263.23,700.15 260.93,700.77 258.6,701.5 C256.27,702.23 253.82,703.05 251.9,703.8 C249.98,704.55 248.42,705.27 247.1,706 C245.78,706.73 245.25,707.4 244,708.2 C242.75,709 241.07,710.8 239.6,710.8 C238.13,710.8 236.45,709 235.2,708.2 C233.95,707.4 233.42,706.73 232.1,706 C230.78,705.27 229.22,704.55 227.3,703.8 C225.38,703.05 222.93,702.23 220.6,701.5 C218.27,700.77 215.97,700.15 213.3,699.4 C210.63,698.65 207.22,697.73 204.6,697 C201.98,696.27 199.77,695.67 197.6,695 C195.43,694.33 192.93,693.58 191.6,693 C190.27,692.42 189.72,692.18 189.6,691.5 C189.48,690.82 189.28,690.07 190.9,688.9 C192.52,687.73 196.52,685.82 199.3,684.5 C202.08,683.18 204.88,682.17 207.6,681 C210.32,679.83 212.93,678.83 215.6,677.5 C218.27,676.17 221.35,674.45 223.6,673 C225.85,671.55 227.68,670.22 229.1,668.8 C230.52,667.38 231.27,665.97 232.1,664.5 C232.93,663.03 233.57,661.58 234.1,660 C234.63,658.42 234.97,656.83 235.3,655 C235.63,653.17 235.88,651.17 236.1,649 C236.32,646.83 236.4,644.17 236.6,642 C236.8,639.83 237.03,637.83 237.3,636 C237.57,634.17 237.82,632.25 238.2,631 C238.58,629.75 239.13,628.5 239.6,628.5Z" fill="#bcb1ae" stroke="#111" stroke-width="1.3" stroke-linejoin="round"/>
<text x="313.9" y="494.4" font-size="17" font-weight="bold">g</text>
<rect x="341.1" y="491.6" width="20.3" height="6.6" fill="#ad3e2f" stroke="#262626" stroke-width="1.15" />
<rect x="341.1" y="506" width="20.3" height="6.9" fill="#e08686" stroke="#262626" stroke-width="1.15" />
<text x="369.1" y="498" font-size="8.9" textLength="28" lengthAdjust="spacingAndGlyphs">K<tspan font-size="6" dy="-3">+</tspan><tspan dy="3">/DA</tspan></text>
<text x="369.1" y="512.2" font-size="8.9" textLength="52.1" lengthAdjust="spacingAndGlyphs">NMDG <tspan font-size="6" dy="-3">+</tspan><tspan dy="3">/DA</tspan></text>
<line x1="344.8" y1="537.1" x2="351" y2="537.1" stroke="#363636" stroke-width="2.1" />
<line x1="371.4" y1="537.1" x2="460.2" y2="537.1" stroke="#363636" stroke-width="2.1" />
<line x1="344.8" y1="531.9" x2="344.8" y2="542.3" stroke="#363636" stroke-width="2.1" />
<line x1="460.2" y1="531.9" x2="460.2" y2="542.3" stroke="#363636" stroke-width="2.1" />
<rect x="351" y="527.8" width="20.4" height="18.6" fill="#b53f36" stroke="#363636" stroke-width="2.1" />
<line x1="356.5" y1="527.8" x2="356.5" y2="546.4" stroke="#363636" stroke-width="2.1" />
<line x1="344.8" y1="558.95" x2="349" y2="558.95" stroke="#363636" stroke-width="2.1" />
<line x1="360.9" y1="558.95" x2="446" y2="558.95" stroke="#363636" stroke-width="2.1" />
<line x1="344.8" y1="553.75" x2="344.8" y2="564.15" stroke="#363636" stroke-width="2.1" />
<line x1="446" y1="553.75" x2="446" y2="564.15" stroke="#363636" stroke-width="2.1" />
<rect x="349" y="549.4" width="11.9" height="19.1" fill="#d86e6e" stroke="#363636" stroke-width="2.1" />
<line x1="353" y1="549.4" x2="353" y2="568.5" stroke="#363636" stroke-width="2.1" />
<polyline points="338,537 334.1,537 334.1,557.3 338,557.3" fill="none" stroke="#000" stroke-width="2" stroke-linejoin="round" stroke-linecap="round"/>
<path d="M328.4,544 L328.4,548.4 M326.49,545.1 L330.31,547.3 M330.31,545.1 L326.49,547.3 " fill="none" stroke="#111" stroke-width="1" />
<path d="M328.4,549.3 L328.4,553.7 M326.49,550.4 L330.31,552.6 M330.31,550.4 L326.49,552.6 " fill="none" stroke="#111" stroke-width="1" />
<path d="M385.2,570.9 C385.37,570.9 385.6,573.48 385.7,575 C385.8,576.52 385.8,577.5 385.8,580 C385.8,582.5 385.73,586.67 385.7,590 C385.67,593.33 385.61,597.17 385.6,600 C385.59,602.83 385.52,605 385.65,607 C385.78,609 386.07,610.17 386.4,612 C386.72,613.83 387.37,615.83 387.6,618 C387.83,620.17 387.8,622.67 387.8,625 C387.8,627.33 387.57,629.5 387.6,632 C387.63,634.5 387.73,637.33 388,640 C388.27,642.67 388.67,645.67 389.2,648 C389.73,650.33 390.5,652.12 391.2,654 C391.9,655.88 392.48,657.47 393.4,659.3 C394.32,661.13 395.23,662.93 396.7,665 C398.17,667.07 399.62,669.48 402.2,671.7 C404.78,673.92 408.7,676.25 412.2,678.3 C415.7,680.35 420.2,682.47 423.2,684 C426.2,685.53 428.2,686.53 430.2,687.5 C432.2,688.47 434.45,688.98 435.2,689.8 C435.95,690.62 435.87,691.45 434.7,692.4 C433.53,693.35 431.28,694.4 428.2,695.5 C425.12,696.6 420.37,697.75 416.2,699 C412.03,700.25 407.03,701.67 403.2,703 C399.37,704.33 395.7,705.83 393.2,707 C390.7,708.17 389.53,709.02 388.2,710 C386.87,710.98 386.2,712.9 385.2,712.9 C384.2,712.9 383.53,710.98 382.2,710 C380.87,709.02 379.7,708.17 377.2,707 C374.7,705.83 371.03,704.33 367.2,703 C363.37,701.67 358.37,700.25 354.2,699 C350.03,697.75 345.28,696.6 342.2,695.5 C339.12,694.4 336.87,693.35 335.7,692.4 C334.53,691.45 334.45,690.62 335.2,689.8 C335.95,688.98 338.2,688.47 340.2,687.5 C342.2,686.53 344.2,685.53 347.2,684 C350.2,682.47 354.7,680.35 358.2,678.3 C361.7,676.25 365.62,673.92 368.2,671.7 C370.78,669.48 372.23,667.07 373.7,665 C375.17,662.93 376.08,661.13 377,659.3 C377.92,657.47 378.5,655.88 379.2,654 C379.9,652.12 380.67,650.33 381.2,648 C381.73,645.67 382.13,642.67 382.4,640 C382.67,637.33 382.77,634.5 382.8,632 C382.83,629.5 382.6,627.33 382.6,625 C382.6,622.67 382.57,620.17 382.8,618 C383.03,615.83 383.68,613.83 384,612 C384.32,610.17 384.62,609 384.75,607 C384.88,605 384.81,602.83 384.8,600 C384.79,597.17 384.73,593.33 384.7,590 C384.67,586.67 384.6,582.5 384.6,580 C384.6,577.5 384.6,576.52 384.7,575 C384.8,573.48 385.03,570.9 385.2,570.9Z" fill="#a53a2b" stroke="#111" stroke-width="1.3" stroke-linejoin="round"/>
<path d="M385.2,638 C385.5,638 385.87,640.33 386.1,642 C386.33,643.67 386.45,646 386.6,648 C386.75,650 386.87,652.12 387,654 C387.13,655.88 387.13,657.47 387.4,659.3 C387.67,661.13 388.05,662.93 388.6,665 C389.15,667.07 389.6,669.87 390.7,671.7 C391.8,673.53 393.2,674.62 395.2,676 C397.2,677.38 400.03,678.67 402.7,680 C405.37,681.33 408.12,682.83 411.2,684 C414.28,685.17 418.2,686.17 421.2,687 C424.2,687.83 426.95,688.35 429.2,689 C431.45,689.65 434.03,690.23 434.7,690.9 C435.37,691.57 434.45,692.32 433.2,693 C431.95,693.68 429.37,694.33 427.2,695 C425.03,695.67 422.82,696.27 420.2,697 C417.58,697.73 414.17,698.65 411.5,699.4 C408.83,700.15 406.53,700.77 404.2,701.5 C401.87,702.23 399.42,703.05 397.5,703.8 C395.58,704.55 394.02,705.27 392.7,706 C391.38,706.73 390.85,707.37 389.6,708.2 C388.35,709.03 386.67,711 385.2,711 C383.73,711 382.05,709.03 380.8,708.2 C379.55,707.37 379.02,706.73 377.7,706 C376.38,705.27 374.82,704.55 372.9,703.8 C370.98,703.05 368.53,702.23 366.2,701.5 C363.87,700.77 361.57,700.15 358.9,699.4 C356.23,698.65 352.82,697.73 350.2,697 C347.58,696.27 345.37,695.67 343.2,695 C341.03,694.33 338.45,693.68 337.2,693 C335.95,692.32 335.03,691.57 335.7,690.9 C336.37,690.23 338.95,689.65 341.2,689 C343.45,688.35 346.2,687.83 349.2,687 C352.2,686.17 356.12,685.17 359.2,684 C362.28,682.83 365.03,681.33 367.7,680 C370.37,678.67 373.2,677.38 375.2,676 C377.2,674.62 378.6,673.53 379.7,671.7 C380.8,669.87 381.25,667.07 381.8,665 C382.35,662.93 382.73,661.13 383,659.3 C383.27,657.47 383.27,655.88 383.4,654 C383.53,652.12 383.65,650 383.8,648 C383.95,646 384.07,643.67 384.3,642 C384.53,640.33 384.9,638 385.2,638Z" fill="#cd6868" stroke="#111" stroke-width="1.3" stroke-linejoin="round"/>
<text x="504" y="494" font-size="17" font-weight="bold">h</text>
<rect x="564.4" y="492.4" width="21" height="7.5" fill="#5566c0" stroke="#262626" stroke-width="1.15" />
<rect x="564.4" y="507.4" width="21" height="6.9" fill="#cfe7f6" stroke="#262626" stroke-width="1.15" />
<text x="593.7" y="499.9" font-size="8.9" textLength="28" lengthAdjust="spacingAndGlyphs">K<tspan font-size="6" dy="-3">+</tspan><tspan dy="3">/DA</tspan></text>
<text x="593.7" y="513.4" font-size="8.9" textLength="10" lengthAdjust="spacingAndGlyphs">K<tspan font-size="6" dy="-3">+</tspan></text>
<line x1="548.2" y1="536.45" x2="561.7" y2="536.45" stroke="#363636" stroke-width="2.1" />
<line x1="580.3" y1="536.45" x2="684.1" y2="536.45" stroke="#363636" stroke-width="2.1" />
<line x1="548.2" y1="531.25" x2="548.2" y2="541.65" stroke="#363636" stroke-width="2.1" />
<line x1="684.1" y1="531.25" x2="684.1" y2="541.65" stroke="#363636" stroke-width="2.1" />
<rect x="561.7" y="527.5" width="18.6" height="17.9" fill="#4e62bd" stroke="#363636" stroke-width="2.1" />
<line x1="570.7" y1="527.5" x2="570.7" y2="545.4" stroke="#363636" stroke-width="2.1" />
<line x1="547.3" y1="556.8" x2="559.3" y2="556.8" stroke="#363636" stroke-width="2.1" />
<line x1="573.4" y1="556.8" x2="633.2" y2="556.8" stroke="#363636" stroke-width="2.1" />
<line x1="547.3" y1="551.6" x2="547.3" y2="562" stroke="#363636" stroke-width="2.1" />
<line x1="633.2" y1="551.6" x2="633.2" y2="562" stroke="#363636" stroke-width="2.1" />
<rect x="559.3" y="547.8" width="14.1" height="18" fill="#bfe1f6" stroke="#363636" stroke-width="2.1" />
<line x1="566.2" y1="547.8" x2="566.2" y2="565.8" stroke="#363636" stroke-width="2.1" />
<polyline points="542.3,536.4 538.4,536.4 538.4,556.8 542.3,556.8" fill="none" stroke="#000" stroke-width="2" stroke-linejoin="round" stroke-linecap="round"/>
<path d="M530.5,538.7 L530.5,543.1 M528.59,539.8 L532.41,542 M532.41,539.8 L528.59,542 " fill="none" stroke="#111" stroke-width="0.95" />
<path d="M530.5,543.7 L530.5,548.1 M528.59,544.8 L532.41,547 M532.41,544.8 L528.59,547 " fill="none" stroke="#111" stroke-width="0.95" />
<path d="M530.5,548.7 L530.5,553.1 M528.59,549.8 L532.41,552 M532.41,549.8 L528.59,552 " fill="none" stroke="#111" stroke-width="0.95" />
<line x1="524.9" y1="553.2" x2="524.9" y2="714.5" stroke="#000" stroke-width="1.2" />
<line x1="524.3" y1="714" x2="662.6" y2="714" stroke="#000" stroke-width="1.4" />
<line x1="522.5" y1="699.7" x2="524.9" y2="699.7" stroke="#000" stroke-width="1" />
<line x1="522.5" y1="644.3" x2="524.9" y2="644.3" stroke="#000" stroke-width="1" />
<line x1="522.5" y1="588.9" x2="524.9" y2="588.9" stroke="#000" stroke-width="1" />
<text transform="translate(518.6 700.3) rotate(-90)" x="0" y="0" font-size="10" text-anchor="middle">0</text>
<text transform="translate(518.6 644.9) rotate(-90)" x="0" y="0" font-size="10" text-anchor="middle">100</text>
<text transform="translate(518.6 589.5) rotate(-90)" x="0" y="0" font-size="10" text-anchor="middle">200</text>
<text transform="translate(500.2 631.5) rotate(-90)" x="0" y="0" font-size="10.6" text-anchor="middle" textLength="151" lengthAdjust="spacingAndGlyphs">&#916; Fluorescence K<tspan font-size="7" dy="-3.6">+</tspan><tspan dy="3.6"> indicator (l/s)</tspan></text>
<path d="M607.8,560.6 C607.95,560.6 608.17,565.1 608.25,570 C608.33,574.9 608.28,584.17 608.3,590 C608.32,595.83 608.32,600.83 608.35,605 C608.37,609.17 608.4,612.17 608.45,615 C608.5,617.83 608.57,619.83 608.65,622 C608.73,624.17 608.76,626.17 608.9,628 C609.04,629.83 609.12,631.33 609.5,633 C609.88,634.67 610.48,636.17 611.2,638 C611.92,639.83 612.92,642.17 613.8,644 C614.68,645.83 615.58,647.33 616.5,649 C617.42,650.67 618.25,652.5 619.3,654 C620.35,655.5 621.55,656.83 622.8,658 C624.05,659.17 625.3,659.9 626.8,661 C628.3,662.1 629.8,663.43 631.8,664.6 C633.8,665.77 636.38,666.87 638.8,668 C641.22,669.13 644.22,670.4 646.3,671.4 C648.38,672.4 649.63,673.07 651.3,674 C652.97,674.93 654.88,675.95 656.3,677 C657.72,678.05 659.38,679.3 659.8,680.3 C660.22,681.3 659.97,682.05 658.8,683 C657.63,683.95 655.47,684.83 652.8,686 C650.13,687.17 646.63,688.5 642.8,690 C638.97,691.5 633.8,693.33 629.8,695 C625.8,696.67 621.8,698.5 618.8,700 C615.8,701.5 613.63,703 611.8,704 C609.97,705 609.13,706 607.8,706 C606.47,706 605.63,705 603.8,704 C601.97,703 599.8,701.5 596.8,700 C593.8,698.5 589.8,696.67 585.8,695 C581.8,693.33 576.63,691.5 572.8,690 C568.97,688.5 565.47,687.17 562.8,686 C560.13,684.83 557.97,683.95 556.8,683 C555.63,682.05 555.38,681.3 555.8,680.3 C556.22,679.3 557.88,678.05 559.3,677 C560.72,675.95 562.63,674.93 564.3,674 C565.97,673.07 567.22,672.4 569.3,671.4 C571.38,670.4 574.38,669.13 576.8,668 C579.22,666.87 581.8,665.77 583.8,664.6 C585.8,663.43 587.3,662.1 588.8,661 C590.3,659.9 591.55,659.17 592.8,658 C594.05,656.83 595.25,655.5 596.3,654 C597.35,652.5 598.18,650.67 599.1,649 C600.02,647.33 600.92,645.83 601.8,644 C602.68,642.17 603.68,639.83 604.4,638 C605.12,636.17 605.72,634.67 606.1,633 C606.48,631.33 606.56,629.83 606.7,628 C606.84,626.17 606.87,624.17 606.95,622 C607.02,619.83 607.1,617.83 607.15,615 C607.2,612.17 607.23,609.17 607.25,605 C607.27,600.83 607.28,595.83 607.3,590 C607.32,584.17 607.27,574.9 607.35,570 C607.43,565.1 607.65,560.6 607.8,560.6Z" fill="#7383d3" stroke="#2a2a2a" stroke-width="1.3" stroke-linejoin="round"/>
<path d="M607.8,634 C608.1,634 608.45,635.83 608.7,637 C608.95,638.17 609.1,639.67 609.3,641 C609.5,642.33 609.65,643.5 609.9,645 C610.15,646.5 610.48,648.33 610.8,650 C611.12,651.67 611.42,653.67 611.8,655 C612.18,656.33 612.47,656.83 613.1,658 C613.73,659.17 614.52,660.52 615.6,662 C616.68,663.48 618.15,665.57 619.6,666.9 C621.05,668.23 622.18,668.88 624.3,670 C626.42,671.12 629.88,672.6 632.3,673.6 C634.72,674.6 636.05,675.07 638.8,676 C641.55,676.93 646.13,678.28 648.8,679.2 C651.47,680.12 653.05,680.75 654.8,681.5 C656.55,682.25 658.88,683.03 659.3,683.7 C659.72,684.37 658.72,684.87 657.3,685.5 C655.88,686.13 653.38,686.75 650.8,687.5 C648.22,688.25 644.97,689.08 641.8,690 C638.63,690.92 634.8,692 631.8,693 C628.8,694 626.22,695 623.8,696 C621.38,697 619.13,698 617.3,699 C615.47,700 614.05,701 612.8,702 C611.55,703 610.63,704.13 609.8,705 C608.97,705.87 608.47,707.2 607.8,707.2 C607.13,707.2 606.63,705.87 605.8,705 C604.97,704.13 604.05,703 602.8,702 C601.55,701 600.13,700 598.3,699 C596.47,698 594.22,697 591.8,696 C589.38,695 586.8,694 583.8,693 C580.8,692 576.97,690.92 573.8,690 C570.63,689.08 567.38,688.25 564.8,687.5 C562.22,686.75 559.72,686.13 558.3,685.5 C556.88,684.87 555.88,684.37 556.3,683.7 C556.72,683.03 559.05,682.25 560.8,681.5 C562.55,680.75 564.13,680.12 566.8,679.2 C569.47,678.28 574.05,676.93 576.8,676 C579.55,675.07 580.88,674.6 583.3,673.6 C585.72,672.6 589.18,671.12 591.3,670 C593.42,668.88 594.55,668.23 596,666.9 C597.45,665.57 598.92,663.48 600,662 C601.08,660.52 601.87,659.17 602.5,658 C603.13,656.83 603.42,656.33 603.8,655 C604.18,653.67 604.48,651.67 604.8,650 C605.12,648.33 605.45,646.5 605.7,645 C605.95,643.5 606.1,642.33 606.3,641 C606.5,639.67 606.65,638.17 606.9,637 C607.15,635.83 607.5,634 607.8,634Z" fill="#a9cbe9" stroke="#2a2a2a" stroke-width="1.3" stroke-linejoin="round"/>
<path d="M607.8,560.6 C608,560.6 608.26,570.1 608.4,575 C608.54,579.9 608.57,585 608.65,590 C608.73,595 608.8,600.83 608.9,605 C609,609.17 609.12,611.67 609.25,615 C609.38,618.33 609.51,622.33 609.65,625 C609.79,627.67 609.97,629.33 610.1,631 C610.22,632.67 610.48,633.83 610.4,635 C610.32,636.17 610.03,637.17 609.6,638 C609.17,638.83 608.4,640 607.8,640 C607.2,640 606.43,638.83 606,638 C605.57,637.17 605.28,636.17 605.2,635 C605.12,633.83 605.38,632.67 605.5,631 C605.62,629.33 605.81,627.67 605.95,625 C606.09,622.33 606.22,618.33 606.35,615 C606.47,611.67 606.6,609.17 606.7,605 C606.8,600.83 606.87,595 606.95,590 C607.03,585 607.06,579.9 607.2,575 C607.34,570.1 607.6,560.6 607.8,560.6Z" fill="#393939" stroke="#393939" stroke-width="0.6" stroke-linejoin="round"/>
</svg>
</body></html>
